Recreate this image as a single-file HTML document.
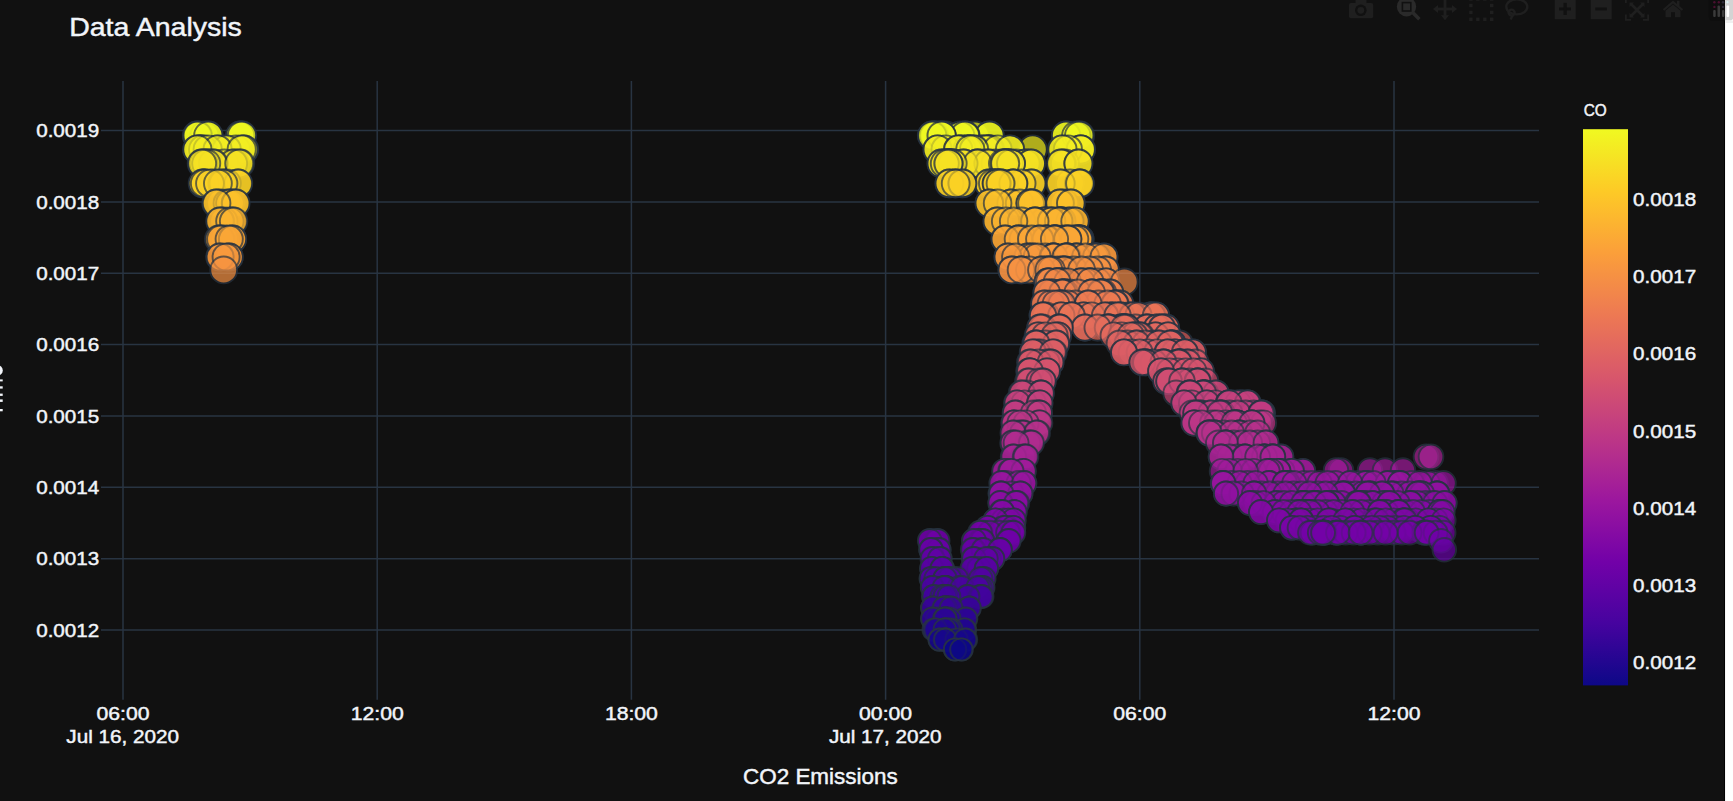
<!DOCTYPE html><html><head><meta charset="utf-8"><title>Data Analysis</title><style>html,body{margin:0;padding:0;background:#fff;overflow:hidden}svg{display:block}text{font-family:"Liberation Sans",sans-serif;fill:#f2f5fa;stroke:#f2f5fa;stroke-width:.45px}</style></head><body>
<svg width="1733" height="801" viewBox="0 0 1733 801">
<rect x="0" y="0" width="1725" height="801" fill="#111111"/>
<rect x="1724.2" y="0" width="1" height="801" fill="#000"/>
<path d="M123.0 81.0V699.7M377.2 81.0V699.7M631.4 81.0V699.7M885.6 81.0V699.7M1139.8 81.0V699.7M1394.0 81.0V699.7M101.0 130.5H1539.0M101.0 201.9H1539.0M101.0 273.2H1539.0M101.0 344.6H1539.0M101.0 415.9H1539.0M101.0 487.3H1539.0M101.0 558.7H1539.0M101.0 630.0H1539.0" stroke="#283442" stroke-width="1.5" fill="none"/>
<g stroke="#283442" stroke-width="1.9">
<circle cx="1080.0" cy="135.6" r="14.17" fill="#f0f921" opacity=".7"/>
<circle cx="974.9" cy="135.6" r="14.17" fill="#f0f921" opacity=".7"/>
<circle cx="937.7" cy="135.6" r="14.17" fill="#f0f921" opacity=".7"/>
<circle cx="240.6" cy="135.6" r="14.17" fill="#f0f921" opacity=".7"/>
<circle cx="989.5" cy="135.6" r="14.17" fill="#f0f921" opacity=".7"/>
<circle cx="945.6" cy="135.6" r="14.17" fill="#f0f921" opacity=".7"/>
<circle cx="1066.2" cy="135.6" r="14.17" fill="#f0f921" opacity=".7"/>
<circle cx="989.5" cy="135.6" r="14.17" fill="#f0f921" opacity=".7"/>
<circle cx="241.6" cy="135.6" r="14.17" fill="#f0f921" opacity=".7"/>
<circle cx="932.0" cy="135.6" r="14.17" fill="#f0f921" opacity=".7"/>
<circle cx="1066.0" cy="135.6" r="14.17" fill="#f0f921" opacity=".7"/>
<circle cx="934.8" cy="135.6" r="14.17" fill="#f0f921" opacity=".7"/>
<circle cx="197.3" cy="135.6" r="14.17" fill="#f0f921" opacity=".7"/>
<circle cx="1076.3" cy="135.6" r="14.17" fill="#f0f921" opacity=".7"/>
<circle cx="965.1" cy="135.6" r="14.17" fill="#f0f921" opacity=".7"/>
<circle cx="965.4" cy="135.6" r="14.17" fill="#f0f921" opacity=".7"/>
<circle cx="960.2" cy="135.6" r="14.17" fill="#f0f921" opacity=".7"/>
<circle cx="204.5" cy="135.6" r="14.17" fill="#f0f921" opacity=".7"/>
<circle cx="208.5" cy="135.6" r="14.17" fill="#f0f921" opacity=".7"/>
<circle cx="964.9" cy="135.6" r="14.17" fill="#f0f921" opacity=".7"/>
<circle cx="934.6" cy="135.6" r="14.17" fill="#f0f921" opacity=".7"/>
<circle cx="1079.2" cy="135.6" r="14.17" fill="#f0f921" opacity=".7"/>
<circle cx="941.2" cy="135.6" r="14.17" fill="#f0f921" opacity=".7"/>
<circle cx="240.1" cy="135.6" r="14.17" fill="#f0f921" opacity=".7"/>
<circle cx="197.0" cy="135.6" r="14.17" fill="#f0f921" opacity=".7"/>
<circle cx="197.8" cy="135.6" r="14.17" fill="#f0f921" opacity=".7"/>
<circle cx="208.3" cy="135.6" r="14.17" fill="#f0f921" opacity=".7"/>
<circle cx="933.6" cy="135.6" r="14.17" fill="#f0f921" opacity=".7"/>
<circle cx="941.5" cy="135.6" r="14.17" fill="#f0f921" opacity=".7"/>
<circle cx="242.0" cy="135.6" r="14.17" fill="#f0f921" opacity=".7"/>
<circle cx="932.2" cy="135.6" r="14.17" fill="#f0f921" opacity=".7"/>
<circle cx="941.7" cy="135.6" r="14.17" fill="#f0f921" opacity=".7"/>
<circle cx="236.0" cy="149.5" r="14.10" fill="#f3ee22" opacity=".7"/>
<circle cx="990.0" cy="149.5" r="14.10" fill="#f3ee22" opacity=".7"/>
<circle cx="967.2" cy="149.5" r="14.10" fill="#f3ee22" opacity=".7"/>
<circle cx="967.4" cy="149.5" r="14.10" fill="#f3ee22" opacity=".7"/>
<circle cx="986.3" cy="149.5" r="14.10" fill="#f3ee22" opacity=".7"/>
<circle cx="970.6" cy="149.5" r="14.10" fill="#f3ee22" opacity=".7"/>
<circle cx="981.5" cy="149.5" r="14.10" fill="#f3ee22" opacity=".7"/>
<circle cx="224.3" cy="149.5" r="14.10" fill="#f3ee22" opacity=".7"/>
<circle cx="988.8" cy="149.5" r="14.10" fill="#f3ee22" opacity=".7"/>
<circle cx="981.7" cy="149.5" r="14.10" fill="#f3ee22" opacity=".7"/>
<circle cx="961.7" cy="149.5" r="14.10" fill="#f3ee22" opacity=".7"/>
<circle cx="1080.4" cy="149.5" r="14.10" fill="#f3ee22" opacity=".7"/>
<circle cx="1032.7" cy="149.5" r="14.10" fill="#f3ee22" opacity=".7"/>
<circle cx="1010.0" cy="149.5" r="14.10" fill="#f3ee22" opacity=".7"/>
<circle cx="217.2" cy="149.5" r="14.10" fill="#f3ee22" opacity=".7"/>
<circle cx="1081.0" cy="149.5" r="14.10" fill="#f3ee22" opacity=".7"/>
<circle cx="201.5" cy="149.5" r="14.10" fill="#f3ee22" opacity=".7"/>
<circle cx="199.1" cy="149.5" r="14.10" fill="#f3ee22" opacity=".7"/>
<circle cx="990.0" cy="149.5" r="14.10" fill="#f3ee22" opacity=".7"/>
<circle cx="988.5" cy="149.5" r="14.10" fill="#f3ee22" opacity=".7"/>
<circle cx="986.1" cy="149.5" r="14.10" fill="#f3ee22" opacity=".7"/>
<circle cx="244.1" cy="149.5" r="14.10" fill="#f3ee22" opacity=".7"/>
<circle cx="243.6" cy="149.5" r="14.10" fill="#f3ee22" opacity=".7"/>
<circle cx="200.6" cy="149.5" r="14.10" fill="#f3ee22" opacity=".7"/>
<circle cx="970.1" cy="149.5" r="14.10" fill="#f3ee22" opacity=".7"/>
<circle cx="197.3" cy="149.5" r="14.10" fill="#f3ee22" opacity=".7"/>
<circle cx="203.1" cy="149.5" r="14.10" fill="#f3ee22" opacity=".7"/>
<circle cx="1062.0" cy="149.5" r="14.10" fill="#f3ee22" opacity=".7"/>
<circle cx="226.7" cy="149.5" r="14.10" fill="#f3ee22" opacity=".7"/>
<circle cx="937.6" cy="149.5" r="14.10" fill="#f3ee22" opacity=".7"/>
<circle cx="1080.8" cy="149.5" r="14.10" fill="#f3ee22" opacity=".7"/>
<circle cx="974.3" cy="149.5" r="14.10" fill="#f3ee22" opacity=".7"/>
<circle cx="207.7" cy="149.5" r="14.10" fill="#f3ee22" opacity=".7"/>
<circle cx="961.5" cy="149.5" r="14.10" fill="#f3ee22" opacity=".7"/>
<circle cx="997.6" cy="149.5" r="14.10" fill="#f3ee22" opacity=".7"/>
<circle cx="1010.0" cy="149.5" r="14.10" fill="#f3ee22" opacity=".7"/>
<circle cx="217.6" cy="149.5" r="14.10" fill="#f3ee22" opacity=".7"/>
<circle cx="945.6" cy="149.5" r="14.10" fill="#f3ee22" opacity=".7"/>
<circle cx="937.6" cy="149.5" r="14.10" fill="#f3ee22" opacity=".7"/>
<circle cx="197.4" cy="149.5" r="14.10" fill="#f3ee22" opacity=".7"/>
<circle cx="967.7" cy="149.5" r="14.10" fill="#f3ee22" opacity=".7"/>
<circle cx="1067.9" cy="149.5" r="14.10" fill="#f3ee22" opacity=".7"/>
<circle cx="241.7" cy="149.5" r="14.10" fill="#f3ee22" opacity=".7"/>
<circle cx="958.0" cy="149.5" r="14.10" fill="#f3ee22" opacity=".7"/>
<circle cx="958.3" cy="149.5" r="14.10" fill="#f3ee22" opacity=".7"/>
<circle cx="974.0" cy="149.5" r="14.10" fill="#f3ee22" opacity=".7"/>
<circle cx="1062.5" cy="149.5" r="14.10" fill="#f3ee22" opacity=".7"/>
<circle cx="970.3" cy="149.5" r="14.10" fill="#f3ee22" opacity=".7"/>
<circle cx="941.5" cy="163.5" r="14.03" fill="#f6e223" opacity=".7"/>
<circle cx="977.3" cy="163.5" r="14.03" fill="#f6e223" opacity=".7"/>
<circle cx="207.3" cy="163.5" r="14.03" fill="#f6e223" opacity=".7"/>
<circle cx="1064.9" cy="163.5" r="14.03" fill="#f6e223" opacity=".7"/>
<circle cx="945.1" cy="163.5" r="14.03" fill="#f6e223" opacity=".7"/>
<circle cx="983.5" cy="163.5" r="14.03" fill="#f6e223" opacity=".7"/>
<circle cx="952.1" cy="163.5" r="14.03" fill="#f6e223" opacity=".7"/>
<circle cx="1016.1" cy="163.5" r="14.03" fill="#f6e223" opacity=".7"/>
<circle cx="963.5" cy="163.5" r="14.03" fill="#f6e223" opacity=".7"/>
<circle cx="1002.7" cy="163.5" r="14.03" fill="#f6e223" opacity=".7"/>
<circle cx="1025.5" cy="163.5" r="14.03" fill="#f6e223" opacity=".7"/>
<circle cx="1006.5" cy="163.5" r="14.03" fill="#f6e223" opacity=".7"/>
<circle cx="1005.0" cy="163.5" r="14.03" fill="#f6e223" opacity=".7"/>
<circle cx="1008.7" cy="163.5" r="14.03" fill="#f6e223" opacity=".7"/>
<circle cx="224.1" cy="163.5" r="14.03" fill="#f6e223" opacity=".7"/>
<circle cx="208.7" cy="163.5" r="14.03" fill="#f6e223" opacity=".7"/>
<circle cx="977.8" cy="163.5" r="14.03" fill="#f6e223" opacity=".7"/>
<circle cx="948.5" cy="163.5" r="14.03" fill="#f6e223" opacity=".7"/>
<circle cx="941.5" cy="163.5" r="14.03" fill="#f6e223" opacity=".7"/>
<circle cx="952.8" cy="163.5" r="14.03" fill="#f6e223" opacity=".7"/>
<circle cx="1061.8" cy="163.5" r="14.03" fill="#f6e223" opacity=".7"/>
<circle cx="234.8" cy="163.5" r="14.03" fill="#f6e223" opacity=".7"/>
<circle cx="1006.7" cy="163.5" r="14.03" fill="#f6e223" opacity=".7"/>
<circle cx="240.2" cy="163.5" r="14.03" fill="#f6e223" opacity=".7"/>
<circle cx="995.6" cy="163.5" r="14.03" fill="#f6e223" opacity=".7"/>
<circle cx="988.5" cy="163.5" r="14.03" fill="#f6e223" opacity=".7"/>
<circle cx="952.3" cy="163.5" r="14.03" fill="#f6e223" opacity=".7"/>
<circle cx="1025.7" cy="163.5" r="14.03" fill="#f6e223" opacity=".7"/>
<circle cx="988.5" cy="163.5" r="14.03" fill="#f6e223" opacity=".7"/>
<circle cx="963.5" cy="163.5" r="14.03" fill="#f6e223" opacity=".7"/>
<circle cx="1031.0" cy="163.5" r="14.03" fill="#f6e223" opacity=".7"/>
<circle cx="1031.0" cy="163.5" r="14.03" fill="#f6e223" opacity=".7"/>
<circle cx="201.7" cy="163.5" r="14.03" fill="#f6e223" opacity=".7"/>
<circle cx="948.3" cy="163.5" r="14.03" fill="#f6e223" opacity=".7"/>
<circle cx="233.1" cy="163.5" r="14.03" fill="#f6e223" opacity=".7"/>
<circle cx="213.6" cy="163.5" r="14.03" fill="#f6e223" opacity=".7"/>
<circle cx="1009.0" cy="163.5" r="14.03" fill="#f6e223" opacity=".7"/>
<circle cx="212.8" cy="163.5" r="14.03" fill="#f6e223" opacity=".7"/>
<circle cx="203.5" cy="163.5" r="14.03" fill="#f6e223" opacity=".7"/>
<circle cx="1061.0" cy="163.5" r="14.03" fill="#f6e223" opacity=".7"/>
<circle cx="206.2" cy="163.5" r="14.03" fill="#f6e223" opacity=".7"/>
<circle cx="202.1" cy="163.5" r="14.03" fill="#f6e223" opacity=".7"/>
<circle cx="948.0" cy="163.5" r="14.03" fill="#f6e223" opacity=".7"/>
<circle cx="1078.3" cy="163.5" r="14.03" fill="#f6e223" opacity=".7"/>
<circle cx="1078.5" cy="163.5" r="14.03" fill="#f6e223" opacity=".7"/>
<circle cx="948.8" cy="163.5" r="14.03" fill="#f6e223" opacity=".7"/>
<circle cx="977.6" cy="163.5" r="14.03" fill="#f6e223" opacity=".7"/>
<circle cx="239.2" cy="163.5" r="14.03" fill="#f6e223" opacity=".7"/>
<circle cx="1011.0" cy="163.5" r="14.03" fill="#f6e223" opacity=".7"/>
<circle cx="952.6" cy="163.5" r="14.03" fill="#f6e223" opacity=".7"/>
<circle cx="948.5" cy="163.5" r="14.03" fill="#f6e223" opacity=".7"/>
<circle cx="1003.0" cy="163.5" r="14.03" fill="#f6e223" opacity=".7"/>
<circle cx="1004.7" cy="163.5" r="14.03" fill="#f6e223" opacity=".7"/>
<circle cx="944.8" cy="163.5" r="14.03" fill="#f6e223" opacity=".7"/>
<circle cx="948.5" cy="163.5" r="14.03" fill="#f6e223" opacity=".7"/>
<circle cx="1011.0" cy="163.5" r="14.03" fill="#f6e223" opacity=".7"/>
<circle cx="1005.2" cy="163.5" r="14.03" fill="#f6e223" opacity=".7"/>
<circle cx="992.4" cy="183.4" r="13.92" fill="#fbd225" opacity=".7"/>
<circle cx="237.9" cy="183.4" r="13.92" fill="#fbd225" opacity=".7"/>
<circle cx="1000.8" cy="183.4" r="13.92" fill="#fbd225" opacity=".7"/>
<circle cx="1013.0" cy="183.4" r="13.92" fill="#fbd225" opacity=".7"/>
<circle cx="226.9" cy="183.4" r="13.92" fill="#fbd225" opacity=".7"/>
<circle cx="1069.9" cy="183.4" r="13.92" fill="#fbd225" opacity=".7"/>
<circle cx="955.4" cy="183.4" r="13.92" fill="#fbd225" opacity=".7"/>
<circle cx="203.2" cy="183.4" r="13.92" fill="#fbd225" opacity=".7"/>
<circle cx="955.2" cy="183.4" r="13.92" fill="#fbd225" opacity=".7"/>
<circle cx="992.6" cy="183.4" r="13.92" fill="#fbd225" opacity=".7"/>
<circle cx="989.0" cy="183.4" r="13.92" fill="#fbd225" opacity=".7"/>
<circle cx="1031.3" cy="183.4" r="13.92" fill="#fbd225" opacity=".7"/>
<circle cx="204.7" cy="183.4" r="13.92" fill="#fbd225" opacity=".7"/>
<circle cx="1079.7" cy="183.4" r="13.92" fill="#fbd225" opacity=".7"/>
<circle cx="949.4" cy="183.4" r="13.92" fill="#fbd225" opacity=".7"/>
<circle cx="213.8" cy="183.4" r="13.92" fill="#fbd225" opacity=".7"/>
<circle cx="202.6" cy="183.4" r="13.92" fill="#fbd225" opacity=".7"/>
<circle cx="988.8" cy="183.4" r="13.92" fill="#fbd225" opacity=".7"/>
<circle cx="1031.7" cy="183.4" r="13.92" fill="#fbd225" opacity=".7"/>
<circle cx="1060.0" cy="183.4" r="13.92" fill="#fbd225" opacity=".7"/>
<circle cx="1021.6" cy="183.4" r="13.92" fill="#fbd225" opacity=".7"/>
<circle cx="1013.5" cy="183.4" r="13.92" fill="#fbd225" opacity=".7"/>
<circle cx="997.0" cy="183.4" r="13.92" fill="#fbd225" opacity=".7"/>
<circle cx="1001.0" cy="183.4" r="13.92" fill="#fbd225" opacity=".7"/>
<circle cx="992.9" cy="183.4" r="13.92" fill="#fbd225" opacity=".7"/>
<circle cx="996.7" cy="183.4" r="13.92" fill="#fbd225" opacity=".7"/>
<circle cx="949.4" cy="183.4" r="13.92" fill="#fbd225" opacity=".7"/>
<circle cx="1079.0" cy="183.4" r="13.92" fill="#fbd225" opacity=".7"/>
<circle cx="997.2" cy="183.4" r="13.92" fill="#fbd225" opacity=".7"/>
<circle cx="1060.8" cy="183.4" r="13.92" fill="#fbd225" opacity=".7"/>
<circle cx="962.4" cy="183.4" r="13.92" fill="#fbd225" opacity=".7"/>
<circle cx="204.8" cy="183.4" r="13.92" fill="#fbd225" opacity=".7"/>
<circle cx="222.2" cy="183.4" r="13.92" fill="#fbd225" opacity=".7"/>
<circle cx="962.4" cy="183.4" r="13.92" fill="#fbd225" opacity=".7"/>
<circle cx="238.3" cy="183.4" r="13.92" fill="#fbd225" opacity=".7"/>
<circle cx="223.5" cy="183.4" r="13.92" fill="#fbd225" opacity=".7"/>
<circle cx="1013.3" cy="183.4" r="13.92" fill="#fbd225" opacity=".7"/>
<circle cx="996.5" cy="183.4" r="13.92" fill="#fbd225" opacity=".7"/>
<circle cx="1000.5" cy="183.4" r="13.92" fill="#fbd225" opacity=".7"/>
<circle cx="210.0" cy="183.4" r="13.92" fill="#fbd225" opacity=".7"/>
<circle cx="955.7" cy="183.4" r="13.92" fill="#fbd225" opacity=".7"/>
<circle cx="217.9" cy="183.4" r="13.92" fill="#fbd225" opacity=".7"/>
<circle cx="1080.0" cy="183.4" r="13.92" fill="#fbd225" opacity=".7"/>
<circle cx="1011.0" cy="203.3" r="13.81" fill="#fdc22a" opacity=".7"/>
<circle cx="1032.0" cy="203.3" r="13.81" fill="#fdc22a" opacity=".7"/>
<circle cx="220.9" cy="203.3" r="13.81" fill="#fdc22a" opacity=".7"/>
<circle cx="216.1" cy="203.3" r="13.81" fill="#fdc22a" opacity=".7"/>
<circle cx="231.7" cy="203.3" r="13.81" fill="#fdc22a" opacity=".7"/>
<circle cx="989.3" cy="203.3" r="13.81" fill="#fdc22a" opacity=".7"/>
<circle cx="1064.6" cy="203.3" r="13.81" fill="#fdc22a" opacity=".7"/>
<circle cx="1060.2" cy="203.3" r="13.81" fill="#fdc22a" opacity=".7"/>
<circle cx="1011.2" cy="203.3" r="13.81" fill="#fdc22a" opacity=".7"/>
<circle cx="1019.6" cy="203.3" r="13.81" fill="#fdc22a" opacity=".7"/>
<circle cx="227.4" cy="203.3" r="13.81" fill="#fdc22a" opacity=".7"/>
<circle cx="1030.3" cy="203.3" r="13.81" fill="#fdc22a" opacity=".7"/>
<circle cx="989.3" cy="203.3" r="13.81" fill="#fdc22a" opacity=".7"/>
<circle cx="1030.1" cy="203.3" r="13.81" fill="#fdc22a" opacity=".7"/>
<circle cx="1071.0" cy="203.3" r="13.81" fill="#fdc22a" opacity=".7"/>
<circle cx="229.9" cy="203.3" r="13.81" fill="#fdc22a" opacity=".7"/>
<circle cx="1060.0" cy="203.3" r="13.81" fill="#fdc22a" opacity=".7"/>
<circle cx="235.5" cy="203.3" r="13.81" fill="#fdc22a" opacity=".7"/>
<circle cx="235.8" cy="203.3" r="13.81" fill="#fdc22a" opacity=".7"/>
<circle cx="1070.8" cy="203.3" r="13.81" fill="#fdc22a" opacity=".7"/>
<circle cx="1032.0" cy="203.3" r="13.81" fill="#fdc22a" opacity=".7"/>
<circle cx="997.6" cy="203.3" r="13.81" fill="#fdc22a" opacity=".7"/>
<circle cx="216.6" cy="203.3" r="13.81" fill="#fdc22a" opacity=".7"/>
<circle cx="1044.5" cy="221.2" r="13.72" fill="#fcb530" opacity=".7"/>
<circle cx="232.7" cy="221.2" r="13.72" fill="#fcb530" opacity=".7"/>
<circle cx="1051.2" cy="221.2" r="13.72" fill="#fcb530" opacity=".7"/>
<circle cx="1060.7" cy="221.2" r="13.72" fill="#fcb530" opacity=".7"/>
<circle cx="223.8" cy="221.2" r="13.72" fill="#fcb530" opacity=".7"/>
<circle cx="997.2" cy="221.2" r="13.72" fill="#fcb530" opacity=".7"/>
<circle cx="1075.0" cy="221.2" r="13.72" fill="#fcb530" opacity=".7"/>
<circle cx="1062.1" cy="221.2" r="13.72" fill="#fcb530" opacity=".7"/>
<circle cx="1069.1" cy="221.2" r="13.72" fill="#fcb530" opacity=".7"/>
<circle cx="220.4" cy="221.2" r="13.72" fill="#fcb530" opacity=".7"/>
<circle cx="997.2" cy="221.2" r="13.72" fill="#fcb530" opacity=".7"/>
<circle cx="1046.3" cy="221.2" r="13.72" fill="#fcb530" opacity=".7"/>
<circle cx="1005.6" cy="221.2" r="13.72" fill="#fcb530" opacity=".7"/>
<circle cx="1061.8" cy="221.2" r="13.72" fill="#fcb530" opacity=".7"/>
<circle cx="1044.2" cy="221.2" r="13.72" fill="#fcb530" opacity=".7"/>
<circle cx="219.9" cy="221.2" r="13.72" fill="#fcb530" opacity=".7"/>
<circle cx="1061.6" cy="221.2" r="13.72" fill="#fcb530" opacity=".7"/>
<circle cx="229.9" cy="221.2" r="13.72" fill="#fcb530" opacity=".7"/>
<circle cx="1058.0" cy="221.2" r="13.72" fill="#fcb530" opacity=".7"/>
<circle cx="1021.6" cy="221.2" r="13.72" fill="#fcb530" opacity=".7"/>
<circle cx="1035.1" cy="221.2" r="13.72" fill="#fcb530" opacity=".7"/>
<circle cx="1059.8" cy="221.2" r="13.72" fill="#fcb530" opacity=".7"/>
<circle cx="1035.3" cy="221.2" r="13.72" fill="#fcb530" opacity=".7"/>
<circle cx="1070.0" cy="221.2" r="13.72" fill="#fcb530" opacity=".7"/>
<circle cx="1051.7" cy="221.2" r="13.72" fill="#fcb530" opacity=".7"/>
<circle cx="1051.5" cy="221.2" r="13.72" fill="#fcb530" opacity=".7"/>
<circle cx="233.6" cy="221.2" r="13.72" fill="#fcb530" opacity=".7"/>
<circle cx="1058.7" cy="221.2" r="13.72" fill="#fcb530" opacity=".7"/>
<circle cx="1034.8" cy="221.2" r="13.72" fill="#fcb530" opacity=".7"/>
<circle cx="1013.6" cy="221.2" r="13.72" fill="#fcb530" opacity=".7"/>
<circle cx="1075.0" cy="221.2" r="13.72" fill="#fcb530" opacity=".7"/>
<circle cx="1054.7" cy="239.1" r="13.62" fill="#fba736" opacity=".7"/>
<circle cx="1039.4" cy="239.1" r="13.62" fill="#fba736" opacity=".7"/>
<circle cx="1054.0" cy="239.1" r="13.62" fill="#fba736" opacity=".7"/>
<circle cx="1074.4" cy="239.1" r="13.62" fill="#fba736" opacity=".7"/>
<circle cx="224.5" cy="239.1" r="13.62" fill="#fba736" opacity=".7"/>
<circle cx="1018.8" cy="239.1" r="13.62" fill="#fba736" opacity=".7"/>
<circle cx="219.6" cy="239.1" r="13.62" fill="#fba736" opacity=".7"/>
<circle cx="1056.4" cy="239.1" r="13.62" fill="#fba736" opacity=".7"/>
<circle cx="1063.6" cy="239.1" r="13.62" fill="#fba736" opacity=".7"/>
<circle cx="1054.2" cy="239.1" r="13.62" fill="#fba736" opacity=".7"/>
<circle cx="1080.0" cy="239.1" r="13.62" fill="#fba736" opacity=".7"/>
<circle cx="218.6" cy="239.1" r="13.62" fill="#fba736" opacity=".7"/>
<circle cx="1068.0" cy="239.1" r="13.62" fill="#fba736" opacity=".7"/>
<circle cx="1080.0" cy="239.1" r="13.62" fill="#fba736" opacity=".7"/>
<circle cx="1018.5" cy="239.1" r="13.62" fill="#fba736" opacity=".7"/>
<circle cx="220.7" cy="239.1" r="13.62" fill="#fba736" opacity=".7"/>
<circle cx="1005.1" cy="239.1" r="13.62" fill="#fba736" opacity=".7"/>
<circle cx="1023.2" cy="239.1" r="13.62" fill="#fba736" opacity=".7"/>
<circle cx="1005.1" cy="239.1" r="13.62" fill="#fba736" opacity=".7"/>
<circle cx="1079.1" cy="239.1" r="13.62" fill="#fba736" opacity=".7"/>
<circle cx="1056.0" cy="239.1" r="13.62" fill="#fba736" opacity=".7"/>
<circle cx="1046.3" cy="239.1" r="13.62" fill="#fba736" opacity=".7"/>
<circle cx="1078.6" cy="239.1" r="13.62" fill="#fba736" opacity=".7"/>
<circle cx="1078.3" cy="239.1" r="13.62" fill="#fba736" opacity=".7"/>
<circle cx="1078.8" cy="239.1" r="13.62" fill="#fba736" opacity=".7"/>
<circle cx="232.5" cy="239.1" r="13.62" fill="#fba736" opacity=".7"/>
<circle cx="1018.3" cy="239.1" r="13.62" fill="#fba736" opacity=".7"/>
<circle cx="1046.6" cy="239.1" r="13.62" fill="#fba736" opacity=".7"/>
<circle cx="1046.1" cy="239.1" r="13.62" fill="#fba736" opacity=".7"/>
<circle cx="232.6" cy="239.1" r="13.62" fill="#fba736" opacity=".7"/>
<circle cx="1074.7" cy="239.1" r="13.62" fill="#fba736" opacity=".7"/>
<circle cx="1031.6" cy="239.1" r="13.62" fill="#fba736" opacity=".7"/>
<circle cx="229.2" cy="239.1" r="13.62" fill="#fba736" opacity=".7"/>
<circle cx="1067.7" cy="239.1" r="13.62" fill="#fba736" opacity=".7"/>
<circle cx="1039.7" cy="239.1" r="13.62" fill="#fba736" opacity=".7"/>
<circle cx="1067.8" cy="239.1" r="13.62" fill="#fba736" opacity=".7"/>
<circle cx="1054.5" cy="239.1" r="13.62" fill="#fba736" opacity=".7"/>
<circle cx="1045.6" cy="257.0" r="13.52" fill="#f99a3d" opacity=".7"/>
<circle cx="1096.7" cy="257.0" r="13.52" fill="#f99a3d" opacity=".7"/>
<circle cx="1027.6" cy="257.0" r="13.52" fill="#f99a3d" opacity=".7"/>
<circle cx="1008.0" cy="257.0" r="13.52" fill="#f99a3d" opacity=".7"/>
<circle cx="1076.2" cy="257.0" r="13.52" fill="#f99a3d" opacity=".7"/>
<circle cx="229.3" cy="257.0" r="13.52" fill="#f99a3d" opacity=".7"/>
<circle cx="1032.3" cy="257.0" r="13.52" fill="#f99a3d" opacity=".7"/>
<circle cx="229.3" cy="257.0" r="13.52" fill="#f99a3d" opacity=".7"/>
<circle cx="1096.2" cy="257.0" r="13.52" fill="#f99a3d" opacity=".7"/>
<circle cx="1067.6" cy="257.0" r="13.52" fill="#f99a3d" opacity=".7"/>
<circle cx="1094.7" cy="257.0" r="13.52" fill="#f99a3d" opacity=".7"/>
<circle cx="1053.1" cy="257.0" r="13.52" fill="#f99a3d" opacity=".7"/>
<circle cx="1104.0" cy="257.0" r="13.52" fill="#f99a3d" opacity=".7"/>
<circle cx="219.7" cy="257.0" r="13.52" fill="#f99a3d" opacity=".7"/>
<circle cx="220.2" cy="257.0" r="13.52" fill="#f99a3d" opacity=".7"/>
<circle cx="1067.3" cy="257.0" r="13.52" fill="#f99a3d" opacity=".7"/>
<circle cx="1095.0" cy="257.0" r="13.52" fill="#f99a3d" opacity=".7"/>
<circle cx="1094.5" cy="257.0" r="13.52" fill="#f99a3d" opacity=".7"/>
<circle cx="1066.0" cy="257.0" r="13.52" fill="#f99a3d" opacity=".7"/>
<circle cx="1027.8" cy="257.0" r="13.52" fill="#f99a3d" opacity=".7"/>
<circle cx="1032.6" cy="257.0" r="13.52" fill="#f99a3d" opacity=".7"/>
<circle cx="1076.5" cy="257.0" r="13.52" fill="#f99a3d" opacity=".7"/>
<circle cx="1053.6" cy="257.0" r="13.52" fill="#f99a3d" opacity=".7"/>
<circle cx="1053.0" cy="257.0" r="13.52" fill="#f99a3d" opacity=".7"/>
<circle cx="1076.7" cy="257.0" r="13.52" fill="#f99a3d" opacity=".7"/>
<circle cx="1053.8" cy="257.0" r="13.52" fill="#f99a3d" opacity=".7"/>
<circle cx="1008.0" cy="257.0" r="13.52" fill="#f99a3d" opacity=".7"/>
<circle cx="1096.5" cy="257.0" r="13.52" fill="#f99a3d" opacity=".7"/>
<circle cx="1067.1" cy="257.0" r="13.52" fill="#f99a3d" opacity=".7"/>
<circle cx="1037.2" cy="257.0" r="13.52" fill="#f99a3d" opacity=".7"/>
<circle cx="1085.6" cy="257.0" r="13.52" fill="#f99a3d" opacity=".7"/>
<circle cx="226.1" cy="257.0" r="13.52" fill="#f99a3d" opacity=".7"/>
<circle cx="1065.9" cy="257.0" r="13.52" fill="#f99a3d" opacity=".7"/>
<circle cx="1015.6" cy="257.0" r="13.52" fill="#f99a3d" opacity=".7"/>
<circle cx="1104.0" cy="257.0" r="13.52" fill="#f99a3d" opacity=".7"/>
<circle cx="223.7" cy="269.9" r="13.45" fill="#f69243" opacity=".7"/>
<circle cx="1021.3" cy="269.9" r="13.45" fill="#f69243" opacity=".7"/>
<circle cx="1011.9" cy="269.9" r="13.45" fill="#f69243" opacity=".7"/>
<circle cx="1065.6" cy="269.9" r="13.45" fill="#f69243" opacity=".7"/>
<circle cx="1021.6" cy="269.9" r="13.45" fill="#f69243" opacity=".7"/>
<circle cx="1041.7" cy="269.9" r="13.45" fill="#f69243" opacity=".7"/>
<circle cx="1062.5" cy="269.9" r="13.45" fill="#f69243" opacity=".7"/>
<circle cx="1051.0" cy="269.9" r="13.45" fill="#f69243" opacity=".7"/>
<circle cx="1063.1" cy="269.9" r="13.45" fill="#f69243" opacity=".7"/>
<circle cx="1057.6" cy="269.9" r="13.45" fill="#f69243" opacity=".7"/>
<circle cx="1073.6" cy="269.9" r="13.45" fill="#f69243" opacity=".7"/>
<circle cx="1046.9" cy="269.9" r="13.45" fill="#f69243" opacity=".7"/>
<circle cx="1046.9" cy="269.9" r="13.45" fill="#f69243" opacity=".7"/>
<circle cx="1029.4" cy="269.9" r="13.45" fill="#f69243" opacity=".7"/>
<circle cx="1011.9" cy="269.9" r="13.45" fill="#f69243" opacity=".7"/>
<circle cx="1021.1" cy="269.9" r="13.45" fill="#f69243" opacity=".7"/>
<circle cx="1105.5" cy="269.9" r="13.45" fill="#f69243" opacity=".7"/>
<circle cx="1064.0" cy="269.9" r="13.45" fill="#f69243" opacity=".7"/>
<circle cx="1041.5" cy="269.9" r="13.45" fill="#f69243" opacity=".7"/>
<circle cx="1105.5" cy="269.9" r="13.45" fill="#f69243" opacity=".7"/>
<circle cx="1051.4" cy="269.9" r="13.45" fill="#f69243" opacity=".7"/>
<circle cx="1097.6" cy="269.9" r="13.45" fill="#f69243" opacity=".7"/>
<circle cx="1089.6" cy="269.9" r="13.45" fill="#f69243" opacity=".7"/>
<circle cx="1048.9" cy="269.9" r="13.45" fill="#f69243" opacity=".7"/>
<circle cx="1081.6" cy="269.9" r="13.45" fill="#f69243" opacity=".7"/>
<circle cx="1059.0" cy="281.8" r="13.38" fill="#f38a48" opacity=".7"/>
<circle cx="1063.2" cy="281.8" r="13.38" fill="#f38a48" opacity=".7"/>
<circle cx="1056.8" cy="281.8" r="13.38" fill="#f38a48" opacity=".7"/>
<circle cx="1062.3" cy="281.8" r="13.38" fill="#f38a48" opacity=".7"/>
<circle cx="1048.8" cy="281.8" r="13.38" fill="#f38a48" opacity=".7"/>
<circle cx="1089.7" cy="281.8" r="13.38" fill="#f38a48" opacity=".7"/>
<circle cx="1106.0" cy="281.8" r="13.38" fill="#f38a48" opacity=".7"/>
<circle cx="1080.7" cy="281.8" r="13.38" fill="#f38a48" opacity=".7"/>
<circle cx="1056.3" cy="281.8" r="13.38" fill="#f38a48" opacity=".7"/>
<circle cx="1081.0" cy="281.8" r="13.38" fill="#f38a48" opacity=".7"/>
<circle cx="1047.8" cy="281.8" r="13.38" fill="#f38a48" opacity=".7"/>
<circle cx="1062.3" cy="281.8" r="13.38" fill="#f38a48" opacity=".7"/>
<circle cx="1090.4" cy="281.8" r="13.38" fill="#f38a48" opacity=".7"/>
<circle cx="1056.6" cy="281.8" r="13.38" fill="#f38a48" opacity=".7"/>
<circle cx="1058.8" cy="281.8" r="13.38" fill="#f38a48" opacity=".7"/>
<circle cx="1089.9" cy="281.8" r="13.38" fill="#f38a48" opacity=".7"/>
<circle cx="1047.8" cy="281.8" r="13.38" fill="#f38a48" opacity=".7"/>
<circle cx="1049.5" cy="281.8" r="13.38" fill="#f38a48" opacity=".7"/>
<circle cx="1097.6" cy="281.8" r="13.38" fill="#f38a48" opacity=".7"/>
<circle cx="1085.7" cy="281.8" r="13.38" fill="#f38a48" opacity=".7"/>
<circle cx="1106.0" cy="281.8" r="13.38" fill="#f38a48" opacity=".7"/>
<circle cx="1081.2" cy="281.8" r="13.38" fill="#f38a48" opacity=".7"/>
<circle cx="1067.6" cy="281.8" r="13.38" fill="#f38a48" opacity=".7"/>
<circle cx="1057.1" cy="281.8" r="13.38" fill="#f38a48" opacity=".7"/>
<circle cx="1090.2" cy="281.8" r="13.38" fill="#f38a48" opacity=".7"/>
<circle cx="1124.3" cy="281.9" r="13.38" fill="#f38a48" opacity=".7"/>
<circle cx="1092.0" cy="292.8" r="13.32" fill="#f0824d" opacity=".7"/>
<circle cx="1064.7" cy="292.8" r="13.32" fill="#f0824d" opacity=".7"/>
<circle cx="1061.5" cy="292.8" r="13.32" fill="#f0824d" opacity=".7"/>
<circle cx="1092.2" cy="292.8" r="13.32" fill="#f0824d" opacity=".7"/>
<circle cx="1051.8" cy="292.8" r="13.32" fill="#f0824d" opacity=".7"/>
<circle cx="1065.0" cy="292.8" r="13.32" fill="#f0824d" opacity=".7"/>
<circle cx="1103.2" cy="292.8" r="13.32" fill="#f0824d" opacity=".7"/>
<circle cx="1051.8" cy="292.8" r="13.32" fill="#f0824d" opacity=".7"/>
<circle cx="1069.5" cy="292.8" r="13.32" fill="#f0824d" opacity=".7"/>
<circle cx="1102.7" cy="292.8" r="13.32" fill="#f0824d" opacity=".7"/>
<circle cx="1100.4" cy="292.8" r="13.32" fill="#f0824d" opacity=".7"/>
<circle cx="1064.5" cy="292.8" r="13.32" fill="#f0824d" opacity=".7"/>
<circle cx="1100.9" cy="292.8" r="13.32" fill="#f0824d" opacity=".7"/>
<circle cx="1046.5" cy="292.8" r="13.32" fill="#f0824d" opacity=".7"/>
<circle cx="1062.3" cy="292.8" r="13.32" fill="#f0824d" opacity=".7"/>
<circle cx="1062.5" cy="292.8" r="13.32" fill="#f0824d" opacity=".7"/>
<circle cx="1110.0" cy="292.8" r="13.32" fill="#f0824d" opacity=".7"/>
<circle cx="1110.0" cy="292.8" r="13.32" fill="#f0824d" opacity=".7"/>
<circle cx="1103.0" cy="292.8" r="13.32" fill="#f0824d" opacity=".7"/>
<circle cx="1077.6" cy="292.8" r="13.32" fill="#f0824d" opacity=".7"/>
<circle cx="1101.2" cy="292.8" r="13.32" fill="#f0824d" opacity=".7"/>
<circle cx="1100.7" cy="292.8" r="13.32" fill="#f0824d" opacity=".7"/>
<circle cx="1091.7" cy="292.8" r="13.32" fill="#f0824d" opacity=".7"/>
<circle cx="1046.8" cy="292.8" r="13.32" fill="#f0824d" opacity=".7"/>
<circle cx="1061.8" cy="303.7" r="13.26" fill="#ee7b52" opacity=".7"/>
<circle cx="1120.0" cy="303.7" r="13.26" fill="#ee7b52" opacity=".7"/>
<circle cx="1044.9" cy="303.7" r="13.26" fill="#ee7b52" opacity=".7"/>
<circle cx="1060.0" cy="303.7" r="13.26" fill="#ee7b52" opacity=".7"/>
<circle cx="1098.6" cy="303.7" r="13.26" fill="#ee7b52" opacity=".7"/>
<circle cx="1115.0" cy="303.7" r="13.26" fill="#ee7b52" opacity=".7"/>
<circle cx="1075.6" cy="303.7" r="13.26" fill="#ee7b52" opacity=".7"/>
<circle cx="1067.6" cy="303.7" r="13.26" fill="#ee7b52" opacity=".7"/>
<circle cx="1115.5" cy="303.7" r="13.26" fill="#ee7b52" opacity=".7"/>
<circle cx="1088.0" cy="303.7" r="13.26" fill="#ee7b52" opacity=".7"/>
<circle cx="1120.0" cy="303.7" r="13.26" fill="#ee7b52" opacity=".7"/>
<circle cx="1115.3" cy="303.7" r="13.26" fill="#ee7b52" opacity=".7"/>
<circle cx="1114.8" cy="303.7" r="13.26" fill="#ee7b52" opacity=".7"/>
<circle cx="1044.2" cy="303.7" r="13.26" fill="#ee7b52" opacity=".7"/>
<circle cx="1060.0" cy="303.7" r="13.26" fill="#ee7b52" opacity=".7"/>
<circle cx="1050.9" cy="303.7" r="13.26" fill="#ee7b52" opacity=".7"/>
<circle cx="1061.8" cy="303.7" r="13.26" fill="#ee7b52" opacity=".7"/>
<circle cx="1055.9" cy="303.7" r="13.26" fill="#ee7b52" opacity=".7"/>
<circle cx="1107.6" cy="303.7" r="13.26" fill="#ee7b52" opacity=".7"/>
<circle cx="1088.3" cy="303.7" r="13.26" fill="#ee7b52" opacity=".7"/>
<circle cx="1060.9" cy="315.6" r="13.19" fill="#ea7457" opacity=".7"/>
<circle cx="1112.4" cy="315.6" r="13.19" fill="#ea7457" opacity=".7"/>
<circle cx="1110.3" cy="315.6" r="13.19" fill="#ea7457" opacity=".7"/>
<circle cx="1042.8" cy="315.6" r="13.19" fill="#ea7457" opacity=".7"/>
<circle cx="1045.9" cy="315.6" r="13.19" fill="#ea7457" opacity=".7"/>
<circle cx="1151.3" cy="315.6" r="13.19" fill="#ea7457" opacity=".7"/>
<circle cx="1132.5" cy="315.6" r="13.19" fill="#ea7457" opacity=".7"/>
<circle cx="1128.5" cy="315.6" r="13.19" fill="#ea7457" opacity=".7"/>
<circle cx="1083.8" cy="315.6" r="13.19" fill="#ea7457" opacity=".7"/>
<circle cx="1121.0" cy="315.6" r="13.19" fill="#ea7457" opacity=".7"/>
<circle cx="1151.8" cy="315.6" r="13.19" fill="#ea7457" opacity=".7"/>
<circle cx="1112.7" cy="315.6" r="13.19" fill="#ea7457" opacity=".7"/>
<circle cx="1149.7" cy="315.6" r="13.19" fill="#ea7457" opacity=".7"/>
<circle cx="1105.3" cy="315.6" r="13.19" fill="#ea7457" opacity=".7"/>
<circle cx="1071.9" cy="315.6" r="13.19" fill="#ea7457" opacity=".7"/>
<circle cx="1042.7" cy="315.6" r="13.19" fill="#ea7457" opacity=".7"/>
<circle cx="1083.5" cy="315.6" r="13.19" fill="#ea7457" opacity=".7"/>
<circle cx="1151.5" cy="315.6" r="13.19" fill="#ea7457" opacity=".7"/>
<circle cx="1071.4" cy="315.6" r="13.19" fill="#ea7457" opacity=".7"/>
<circle cx="1117.8" cy="315.6" r="13.19" fill="#ea7457" opacity=".7"/>
<circle cx="1156.0" cy="315.6" r="13.19" fill="#ea7457" opacity=".7"/>
<circle cx="1061.3" cy="315.6" r="13.19" fill="#ea7457" opacity=".7"/>
<circle cx="1091.6" cy="315.6" r="13.19" fill="#ea7457" opacity=".7"/>
<circle cx="1152.0" cy="315.6" r="13.19" fill="#ea7457" opacity=".7"/>
<circle cx="1132.3" cy="315.6" r="13.19" fill="#ea7457" opacity=".7"/>
<circle cx="1071.6" cy="315.6" r="13.19" fill="#ea7457" opacity=".7"/>
<circle cx="1043.1" cy="315.6" r="13.19" fill="#ea7457" opacity=".7"/>
<circle cx="1121.0" cy="315.6" r="13.19" fill="#ea7457" opacity=".7"/>
<circle cx="1132.8" cy="315.6" r="13.19" fill="#ea7457" opacity=".7"/>
<circle cx="1138.5" cy="315.6" r="13.19" fill="#ea7457" opacity=".7"/>
<circle cx="1105.1" cy="315.6" r="13.19" fill="#ea7457" opacity=".7"/>
<circle cx="1117.6" cy="315.6" r="13.19" fill="#ea7457" opacity=".7"/>
<circle cx="1156.0" cy="315.6" r="13.19" fill="#ea7457" opacity=".7"/>
<circle cx="1146.8" cy="327.6" r="13.13" fill="#e56d5c" opacity=".7"/>
<circle cx="1161.8" cy="327.6" r="13.13" fill="#e56d5c" opacity=".7"/>
<circle cx="1124.3" cy="327.6" r="13.13" fill="#e56d5c" opacity=".7"/>
<circle cx="1085.0" cy="327.6" r="13.13" fill="#e56d5c" opacity=".7"/>
<circle cx="1135.6" cy="327.6" r="13.13" fill="#e56d5c" opacity=".7"/>
<circle cx="1147.3" cy="327.6" r="13.13" fill="#e56d5c" opacity=".7"/>
<circle cx="1109.0" cy="327.6" r="13.13" fill="#e56d5c" opacity=".7"/>
<circle cx="1166.0" cy="327.6" r="13.13" fill="#e56d5c" opacity=".7"/>
<circle cx="1147.0" cy="327.6" r="13.13" fill="#e56d5c" opacity=".7"/>
<circle cx="1124.5" cy="327.6" r="13.13" fill="#e56d5c" opacity=".7"/>
<circle cx="1120.2" cy="327.6" r="13.13" fill="#e56d5c" opacity=".7"/>
<circle cx="1121.9" cy="327.6" r="13.13" fill="#e56d5c" opacity=".7"/>
<circle cx="1040.2" cy="327.6" r="13.13" fill="#e56d5c" opacity=".7"/>
<circle cx="1085.0" cy="327.6" r="13.13" fill="#e56d5c" opacity=".7"/>
<circle cx="1123.8" cy="327.6" r="13.13" fill="#e56d5c" opacity=".7"/>
<circle cx="1122.4" cy="327.6" r="13.13" fill="#e56d5c" opacity=".7"/>
<circle cx="1122.2" cy="327.6" r="13.13" fill="#e56d5c" opacity=".7"/>
<circle cx="1126.8" cy="327.6" r="13.13" fill="#e56d5c" opacity=".7"/>
<circle cx="1059.4" cy="327.6" r="13.13" fill="#e56d5c" opacity=".7"/>
<circle cx="1126.3" cy="327.6" r="13.13" fill="#e56d5c" opacity=".7"/>
<circle cx="1058.9" cy="327.6" r="13.13" fill="#e56d5c" opacity=".7"/>
<circle cx="1166.0" cy="327.6" r="13.13" fill="#e56d5c" opacity=".7"/>
<circle cx="1157.0" cy="327.6" r="13.13" fill="#e56d5c" opacity=".7"/>
<circle cx="1109.0" cy="327.6" r="13.13" fill="#e56d5c" opacity=".7"/>
<circle cx="1157.0" cy="327.6" r="13.13" fill="#e56d5c" opacity=".7"/>
<circle cx="1108.0" cy="327.6" r="13.13" fill="#e56d5c" opacity=".7"/>
<circle cx="1107.8" cy="327.6" r="13.13" fill="#e56d5c" opacity=".7"/>
<circle cx="1161.6" cy="327.6" r="13.13" fill="#e56d5c" opacity=".7"/>
<circle cx="1042.6" cy="327.6" r="13.13" fill="#e56d5c" opacity=".7"/>
<circle cx="1097.6" cy="327.6" r="13.13" fill="#e56d5c" opacity=".7"/>
<circle cx="1126.5" cy="327.6" r="13.13" fill="#e56d5c" opacity=".7"/>
<circle cx="1040.5" cy="327.6" r="13.13" fill="#e56d5c" opacity=".7"/>
<circle cx="1059.8" cy="327.6" r="13.13" fill="#e56d5c" opacity=".7"/>
<circle cx="1124.0" cy="327.6" r="13.13" fill="#e56d5c" opacity=".7"/>
<circle cx="1162.1" cy="327.6" r="13.13" fill="#e56d5c" opacity=".7"/>
<circle cx="1058.0" cy="335.5" r="13.08" fill="#e2685f" opacity=".7"/>
<circle cx="1140.7" cy="335.5" r="13.08" fill="#e2685f" opacity=".7"/>
<circle cx="1155.7" cy="335.5" r="13.08" fill="#e2685f" opacity=".7"/>
<circle cx="1058.2" cy="335.5" r="13.08" fill="#e2685f" opacity=".7"/>
<circle cx="1121.6" cy="335.5" r="13.08" fill="#e2685f" opacity=".7"/>
<circle cx="1168.0" cy="335.5" r="13.08" fill="#e2685f" opacity=".7"/>
<circle cx="1155.5" cy="335.5" r="13.08" fill="#e2685f" opacity=".7"/>
<circle cx="1140.5" cy="335.5" r="13.08" fill="#e2685f" opacity=".7"/>
<circle cx="1038.8" cy="335.5" r="13.08" fill="#e2685f" opacity=".7"/>
<circle cx="1037.8" cy="335.5" r="13.08" fill="#e2685f" opacity=".7"/>
<circle cx="1045.1" cy="335.5" r="13.08" fill="#e2685f" opacity=".7"/>
<circle cx="1054.6" cy="335.5" r="13.08" fill="#e2685f" opacity=".7"/>
<circle cx="1168.0" cy="335.5" r="13.08" fill="#e2685f" opacity=".7"/>
<circle cx="1134.7" cy="335.5" r="13.08" fill="#e2685f" opacity=".7"/>
<circle cx="1134.9" cy="335.5" r="13.08" fill="#e2685f" opacity=".7"/>
<circle cx="1139.2" cy="335.5" r="13.08" fill="#e2685f" opacity=".7"/>
<circle cx="1134.4" cy="335.5" r="13.08" fill="#e2685f" opacity=".7"/>
<circle cx="1113.6" cy="335.5" r="13.08" fill="#e2685f" opacity=".7"/>
<circle cx="1130.7" cy="335.5" r="13.08" fill="#e2685f" opacity=".7"/>
<circle cx="1136.7" cy="343.5" r="13.04" fill="#e06362" opacity=".7"/>
<circle cx="1045.3" cy="343.5" r="13.04" fill="#e06362" opacity=".7"/>
<circle cx="1035.4" cy="343.5" r="13.04" fill="#e06362" opacity=".7"/>
<circle cx="1127.6" cy="343.5" r="13.04" fill="#e06362" opacity=".7"/>
<circle cx="1056.4" cy="343.5" r="13.04" fill="#e06362" opacity=".7"/>
<circle cx="1179.6" cy="343.5" r="13.04" fill="#e06362" opacity=".7"/>
<circle cx="1172.3" cy="343.5" r="13.04" fill="#e06362" opacity=".7"/>
<circle cx="1172.0" cy="343.5" r="13.04" fill="#e06362" opacity=".7"/>
<circle cx="1172.5" cy="343.5" r="13.04" fill="#e06362" opacity=".7"/>
<circle cx="1153.4" cy="343.5" r="13.04" fill="#e06362" opacity=".7"/>
<circle cx="1159.0" cy="343.5" r="13.04" fill="#e06362" opacity=".7"/>
<circle cx="1036.2" cy="343.5" r="13.04" fill="#e06362" opacity=".7"/>
<circle cx="1145.6" cy="343.5" r="13.04" fill="#e06362" opacity=".7"/>
<circle cx="1056.0" cy="343.5" r="13.04" fill="#e06362" opacity=".7"/>
<circle cx="1170.5" cy="343.5" r="13.04" fill="#e06362" opacity=".7"/>
<circle cx="1136.5" cy="343.5" r="13.04" fill="#e06362" opacity=".7"/>
<circle cx="1036.4" cy="343.5" r="13.04" fill="#e06362" opacity=".7"/>
<circle cx="1158.8" cy="343.5" r="13.04" fill="#e06362" opacity=".7"/>
<circle cx="1119.6" cy="343.5" r="13.04" fill="#e06362" opacity=".7"/>
<circle cx="1170.2" cy="343.5" r="13.04" fill="#e06362" opacity=".7"/>
<circle cx="1131.6" cy="352.4" r="12.99" fill="#dc5e66" opacity=".7"/>
<circle cx="1147.6" cy="352.4" r="12.99" fill="#dc5e66" opacity=".7"/>
<circle cx="1040.3" cy="352.4" r="12.99" fill="#dc5e66" opacity=".7"/>
<circle cx="1184.4" cy="352.4" r="12.99" fill="#dc5e66" opacity=".7"/>
<circle cx="1193.0" cy="352.4" r="12.99" fill="#dc5e66" opacity=".7"/>
<circle cx="1053.7" cy="352.4" r="12.99" fill="#dc5e66" opacity=".7"/>
<circle cx="1036.8" cy="352.4" r="12.99" fill="#dc5e66" opacity=".7"/>
<circle cx="1174.6" cy="352.4" r="12.99" fill="#dc5e66" opacity=".7"/>
<circle cx="1157.0" cy="352.4" r="12.99" fill="#dc5e66" opacity=".7"/>
<circle cx="1174.9" cy="352.4" r="12.99" fill="#dc5e66" opacity=".7"/>
<circle cx="1167.5" cy="352.4" r="12.99" fill="#dc5e66" opacity=".7"/>
<circle cx="1139.6" cy="352.4" r="12.99" fill="#dc5e66" opacity=".7"/>
<circle cx="1033.1" cy="352.4" r="12.99" fill="#dc5e66" opacity=".7"/>
<circle cx="1032.7" cy="352.4" r="12.99" fill="#dc5e66" opacity=".7"/>
<circle cx="1193.0" cy="352.4" r="12.99" fill="#dc5e66" opacity=".7"/>
<circle cx="1124.0" cy="352.4" r="12.99" fill="#dc5e66" opacity=".7"/>
<circle cx="1184.7" cy="352.4" r="12.99" fill="#dc5e66" opacity=".7"/>
<circle cx="1167.8" cy="352.4" r="12.99" fill="#dc5e66" opacity=".7"/>
<circle cx="1184.9" cy="352.4" r="12.99" fill="#dc5e66" opacity=".7"/>
<circle cx="1052.8" cy="352.4" r="12.99" fill="#dc5e66" opacity=".7"/>
<circle cx="1124.0" cy="352.4" r="12.99" fill="#dc5e66" opacity=".7"/>
<circle cx="1187.7" cy="362.4" r="12.93" fill="#d9586a" opacity=".7"/>
<circle cx="1050.6" cy="362.4" r="12.93" fill="#d9586a" opacity=".7"/>
<circle cx="1145.1" cy="362.4" r="12.93" fill="#d9586a" opacity=".7"/>
<circle cx="1178.2" cy="362.4" r="12.93" fill="#d9586a" opacity=".7"/>
<circle cx="1180.5" cy="362.4" r="12.93" fill="#d9586a" opacity=".7"/>
<circle cx="1180.2" cy="362.4" r="12.93" fill="#d9586a" opacity=".7"/>
<circle cx="1046.7" cy="362.4" r="12.93" fill="#d9586a" opacity=".7"/>
<circle cx="1029.9" cy="362.4" r="12.93" fill="#d9586a" opacity=".7"/>
<circle cx="1180.7" cy="362.4" r="12.93" fill="#d9586a" opacity=".7"/>
<circle cx="1142.5" cy="362.4" r="12.93" fill="#d9586a" opacity=".7"/>
<circle cx="1038.4" cy="362.4" r="12.93" fill="#d9586a" opacity=".7"/>
<circle cx="1163.6" cy="362.4" r="12.93" fill="#d9586a" opacity=".7"/>
<circle cx="1030.8" cy="362.4" r="12.93" fill="#d9586a" opacity=".7"/>
<circle cx="1195.6" cy="362.4" r="12.93" fill="#d9586a" opacity=".7"/>
<circle cx="1144.8" cy="362.4" r="12.93" fill="#d9586a" opacity=".7"/>
<circle cx="1050.6" cy="362.4" r="12.93" fill="#d9586a" opacity=".7"/>
<circle cx="1187.4" cy="362.4" r="12.93" fill="#d9586a" opacity=".7"/>
<circle cx="1163.9" cy="362.4" r="12.93" fill="#d9586a" opacity=".7"/>
<circle cx="1153.6" cy="362.4" r="12.93" fill="#d9586a" opacity=".7"/>
<circle cx="1146.0" cy="362.4" r="12.93" fill="#d9586a" opacity=".7"/>
<circle cx="1178.5" cy="362.4" r="12.93" fill="#d9586a" opacity=".7"/>
<circle cx="1146.0" cy="362.4" r="12.93" fill="#d9586a" opacity=".7"/>
<circle cx="1178.7" cy="362.4" r="12.93" fill="#d9586a" opacity=".7"/>
<circle cx="1163.4" cy="362.4" r="12.93" fill="#d9586a" opacity=".7"/>
<circle cx="1142.3" cy="362.4" r="12.93" fill="#d9586a" opacity=".7"/>
<circle cx="1201.0" cy="371.3" r="12.88" fill="#d5536e" opacity=".7"/>
<circle cx="1047.0" cy="371.3" r="12.88" fill="#d5536e" opacity=".7"/>
<circle cx="1177.6" cy="371.3" r="12.88" fill="#d5536e" opacity=".7"/>
<circle cx="1161.0" cy="371.3" r="12.88" fill="#d5536e" opacity=".7"/>
<circle cx="1029.6" cy="371.3" r="12.88" fill="#d5536e" opacity=".7"/>
<circle cx="1169.6" cy="371.3" r="12.88" fill="#d5536e" opacity=".7"/>
<circle cx="1029.0" cy="371.3" r="12.88" fill="#d5536e" opacity=".7"/>
<circle cx="1029.8" cy="371.3" r="12.88" fill="#d5536e" opacity=".7"/>
<circle cx="1185.6" cy="371.3" r="12.88" fill="#d5536e" opacity=".7"/>
<circle cx="1161.0" cy="371.3" r="12.88" fill="#d5536e" opacity=".7"/>
<circle cx="1047.0" cy="371.3" r="12.88" fill="#d5536e" opacity=".7"/>
<circle cx="1201.0" cy="371.3" r="12.88" fill="#d5536e" opacity=".7"/>
<circle cx="1030.1" cy="371.3" r="12.88" fill="#d5536e" opacity=".7"/>
<circle cx="1193.6" cy="371.3" r="12.88" fill="#d5536e" opacity=".7"/>
<circle cx="1042.7" cy="381.3" r="12.82" fill="#d04d73" opacity=".7"/>
<circle cx="1182.5" cy="381.3" r="12.82" fill="#d04d73" opacity=".7"/>
<circle cx="1182.3" cy="381.3" r="12.82" fill="#d04d73" opacity=".7"/>
<circle cx="1198.0" cy="381.3" r="12.82" fill="#d04d73" opacity=".7"/>
<circle cx="1028.0" cy="381.3" r="12.82" fill="#d04d73" opacity=".7"/>
<circle cx="1197.5" cy="381.3" r="12.82" fill="#d04d73" opacity=".7"/>
<circle cx="1166.3" cy="381.3" r="12.82" fill="#d04d73" opacity=".7"/>
<circle cx="1189.6" cy="381.3" r="12.82" fill="#d04d73" opacity=".7"/>
<circle cx="1205.6" cy="381.3" r="12.82" fill="#d04d73" opacity=".7"/>
<circle cx="1028.9" cy="381.3" r="12.82" fill="#d04d73" opacity=".7"/>
<circle cx="1197.3" cy="381.3" r="12.82" fill="#d04d73" opacity=".7"/>
<circle cx="1166.0" cy="381.3" r="12.82" fill="#d04d73" opacity=".7"/>
<circle cx="1169.0" cy="381.3" r="12.82" fill="#d04d73" opacity=".7"/>
<circle cx="1169.0" cy="381.3" r="12.82" fill="#d04d73" opacity=".7"/>
<circle cx="1197.8" cy="381.3" r="12.82" fill="#d04d73" opacity=".7"/>
<circle cx="1039.2" cy="381.3" r="12.82" fill="#d04d73" opacity=".7"/>
<circle cx="1182.0" cy="381.3" r="12.82" fill="#d04d73" opacity=".7"/>
<circle cx="1043.0" cy="381.3" r="12.82" fill="#d04d73" opacity=".7"/>
<circle cx="1026.8" cy="393.2" r="12.75" fill="#ca4779" opacity=".7"/>
<circle cx="1205.2" cy="393.2" r="12.75" fill="#ca4779" opacity=".7"/>
<circle cx="1040.4" cy="393.2" r="12.75" fill="#ca4779" opacity=".7"/>
<circle cx="1040.9" cy="393.2" r="12.75" fill="#ca4779" opacity=".7"/>
<circle cx="1189.6" cy="393.2" r="12.75" fill="#ca4779" opacity=".7"/>
<circle cx="1216.0" cy="393.2" r="12.75" fill="#ca4779" opacity=".7"/>
<circle cx="1205.4" cy="393.2" r="12.75" fill="#ca4779" opacity=".7"/>
<circle cx="1176.1" cy="393.2" r="12.75" fill="#ca4779" opacity=".7"/>
<circle cx="1204.9" cy="393.2" r="12.75" fill="#ca4779" opacity=".7"/>
<circle cx="1202.6" cy="393.2" r="12.75" fill="#ca4779" opacity=".7"/>
<circle cx="1203.1" cy="393.2" r="12.75" fill="#ca4779" opacity=".7"/>
<circle cx="1021.4" cy="393.2" r="12.75" fill="#ca4779" opacity=".7"/>
<circle cx="1022.3" cy="393.2" r="12.75" fill="#ca4779" opacity=".7"/>
<circle cx="1202.9" cy="393.2" r="12.75" fill="#ca4779" opacity=".7"/>
<circle cx="1216.0" cy="393.2" r="12.75" fill="#ca4779" opacity=".7"/>
<circle cx="1041.2" cy="393.2" r="12.75" fill="#ca4779" opacity=".7"/>
<circle cx="1203.4" cy="393.2" r="12.75" fill="#ca4779" opacity=".7"/>
<circle cx="1189.8" cy="393.2" r="12.75" fill="#ca4779" opacity=".7"/>
<circle cx="1189.3" cy="393.2" r="12.75" fill="#ca4779" opacity=".7"/>
<circle cx="1190.1" cy="393.2" r="12.75" fill="#ca4779" opacity=".7"/>
<circle cx="1016.7" cy="403.1" r="12.69" fill="#c5417e" opacity=".7"/>
<circle cx="1231.7" cy="403.1" r="12.69" fill="#c5417e" opacity=".7"/>
<circle cx="1242.3" cy="403.1" r="12.69" fill="#c5417e" opacity=".7"/>
<circle cx="1242.1" cy="403.1" r="12.69" fill="#c5417e" opacity=".7"/>
<circle cx="1228.9" cy="403.1" r="12.69" fill="#c5417e" opacity=".7"/>
<circle cx="1247.7" cy="403.1" r="12.69" fill="#c5417e" opacity=".7"/>
<circle cx="1206.8" cy="403.1" r="12.69" fill="#c5417e" opacity=".7"/>
<circle cx="1033.3" cy="403.1" r="12.69" fill="#c5417e" opacity=".7"/>
<circle cx="1184.0" cy="403.1" r="12.69" fill="#c5417e" opacity=".7"/>
<circle cx="1191.6" cy="403.1" r="12.69" fill="#c5417e" opacity=".7"/>
<circle cx="1024.0" cy="403.1" r="12.69" fill="#c5417e" opacity=".7"/>
<circle cx="1215.6" cy="403.1" r="12.69" fill="#c5417e" opacity=".7"/>
<circle cx="1206.6" cy="403.1" r="12.69" fill="#c5417e" opacity=".7"/>
<circle cx="1184.0" cy="403.1" r="12.69" fill="#c5417e" opacity=".7"/>
<circle cx="1228.4" cy="403.1" r="12.69" fill="#c5417e" opacity=".7"/>
<circle cx="1017.3" cy="403.1" r="12.69" fill="#c5417e" opacity=".7"/>
<circle cx="1248.2" cy="403.1" r="12.69" fill="#c5417e" opacity=".7"/>
<circle cx="1231.9" cy="403.1" r="12.69" fill="#c5417e" opacity=".7"/>
<circle cx="1241.8" cy="403.1" r="12.69" fill="#c5417e" opacity=".7"/>
<circle cx="1238.0" cy="403.1" r="12.69" fill="#c5417e" opacity=".7"/>
<circle cx="1039.6" cy="403.1" r="12.69" fill="#c5417e" opacity=".7"/>
<circle cx="1039.9" cy="403.1" r="12.69" fill="#c5417e" opacity=".7"/>
<circle cx="1238.0" cy="403.1" r="12.69" fill="#c5417e" opacity=".7"/>
<circle cx="1228.6" cy="403.1" r="12.69" fill="#c5417e" opacity=".7"/>
<circle cx="1247.9" cy="403.1" r="12.69" fill="#c5417e" opacity=".7"/>
<circle cx="1247.4" cy="403.1" r="12.69" fill="#c5417e" opacity=".7"/>
<circle cx="1229.1" cy="403.1" r="12.69" fill="#c5417e" opacity=".7"/>
<circle cx="1220.0" cy="413.1" r="12.63" fill="#c13b82" opacity=".7"/>
<circle cx="1262.1" cy="413.1" r="12.63" fill="#c13b82" opacity=".7"/>
<circle cx="1253.6" cy="413.1" r="12.63" fill="#c13b82" opacity=".7"/>
<circle cx="1015.2" cy="413.1" r="12.63" fill="#c13b82" opacity=".7"/>
<circle cx="1037.4" cy="413.1" r="12.63" fill="#c13b82" opacity=".7"/>
<circle cx="1200.6" cy="413.1" r="12.63" fill="#c13b82" opacity=".7"/>
<circle cx="1245.6" cy="413.1" r="12.63" fill="#c13b82" opacity=".7"/>
<circle cx="1261.0" cy="413.1" r="12.63" fill="#c13b82" opacity=".7"/>
<circle cx="1200.4" cy="413.1" r="12.63" fill="#c13b82" opacity=".7"/>
<circle cx="1229.6" cy="413.1" r="12.63" fill="#c13b82" opacity=".7"/>
<circle cx="1262.4" cy="413.1" r="12.63" fill="#c13b82" opacity=".7"/>
<circle cx="1211.0" cy="413.1" r="12.63" fill="#c13b82" opacity=".7"/>
<circle cx="1192.2" cy="413.1" r="12.63" fill="#c13b82" opacity=".7"/>
<circle cx="1221.6" cy="413.1" r="12.63" fill="#c13b82" opacity=".7"/>
<circle cx="1261.6" cy="413.1" r="12.63" fill="#c13b82" opacity=".7"/>
<circle cx="1196.1" cy="413.1" r="12.63" fill="#c13b82" opacity=".7"/>
<circle cx="1015.5" cy="413.1" r="12.63" fill="#c13b82" opacity=".7"/>
<circle cx="1039.4" cy="413.1" r="12.63" fill="#c13b82" opacity=".7"/>
<circle cx="1261.9" cy="413.1" r="12.63" fill="#c13b82" opacity=".7"/>
<circle cx="1221.8" cy="413.1" r="12.63" fill="#c13b82" opacity=".7"/>
<circle cx="1237.6" cy="413.1" r="12.63" fill="#c13b82" opacity=".7"/>
<circle cx="1033.5" cy="413.1" r="12.63" fill="#c13b82" opacity=".7"/>
<circle cx="1210.8" cy="413.1" r="12.63" fill="#c13b82" opacity=".7"/>
<circle cx="1195.8" cy="413.1" r="12.63" fill="#c13b82" opacity=".7"/>
<circle cx="1039.4" cy="413.1" r="12.63" fill="#c13b82" opacity=".7"/>
<circle cx="1261.0" cy="413.1" r="12.63" fill="#c13b82" opacity=".7"/>
<circle cx="1219.7" cy="413.1" r="12.63" fill="#c13b82" opacity=".7"/>
<circle cx="1234.0" cy="423.0" r="12.58" fill="#bc3687" opacity=".7"/>
<circle cx="1236.9" cy="423.0" r="12.58" fill="#bc3687" opacity=".7"/>
<circle cx="1236.6" cy="423.0" r="12.58" fill="#bc3687" opacity=".7"/>
<circle cx="1237.1" cy="423.0" r="12.58" fill="#bc3687" opacity=".7"/>
<circle cx="1225.6" cy="423.0" r="12.58" fill="#bc3687" opacity=".7"/>
<circle cx="1038.8" cy="423.0" r="12.58" fill="#bc3687" opacity=".7"/>
<circle cx="1039.8" cy="423.0" r="12.58" fill="#bc3687" opacity=".7"/>
<circle cx="1194.6" cy="423.0" r="12.58" fill="#bc3687" opacity=".7"/>
<circle cx="1251.5" cy="423.0" r="12.58" fill="#bc3687" opacity=".7"/>
<circle cx="1252.2" cy="423.0" r="12.58" fill="#bc3687" opacity=".7"/>
<circle cx="1014.4" cy="423.0" r="12.58" fill="#bc3687" opacity=".7"/>
<circle cx="1194.0" cy="423.0" r="12.58" fill="#bc3687" opacity=".7"/>
<circle cx="1233.5" cy="423.0" r="12.58" fill="#bc3687" opacity=".7"/>
<circle cx="1233.7" cy="423.0" r="12.58" fill="#bc3687" opacity=".7"/>
<circle cx="1259.4" cy="423.0" r="12.58" fill="#bc3687" opacity=".7"/>
<circle cx="1194.0" cy="423.0" r="12.58" fill="#bc3687" opacity=".7"/>
<circle cx="1212.5" cy="423.0" r="12.58" fill="#bc3687" opacity=".7"/>
<circle cx="1216.9" cy="423.0" r="12.58" fill="#bc3687" opacity=".7"/>
<circle cx="1263.5" cy="423.0" r="12.58" fill="#bc3687" opacity=".7"/>
<circle cx="1251.7" cy="423.0" r="12.58" fill="#bc3687" opacity=".7"/>
<circle cx="1013.8" cy="423.0" r="12.58" fill="#bc3687" opacity=".7"/>
<circle cx="1237.4" cy="423.0" r="12.58" fill="#bc3687" opacity=".7"/>
<circle cx="1234.2" cy="423.0" r="12.58" fill="#bc3687" opacity=".7"/>
<circle cx="1014.4" cy="423.0" r="12.58" fill="#bc3687" opacity=".7"/>
<circle cx="1026.1" cy="423.0" r="12.58" fill="#bc3687" opacity=".7"/>
<circle cx="1019.9" cy="423.0" r="12.58" fill="#bc3687" opacity=".7"/>
<circle cx="1252.0" cy="423.0" r="12.58" fill="#bc3687" opacity=".7"/>
<circle cx="1201.6" cy="423.0" r="12.58" fill="#bc3687" opacity=".7"/>
<circle cx="1019.1" cy="433.0" r="12.52" fill="#b6308b" opacity=".7"/>
<circle cx="1214.5" cy="433.0" r="12.52" fill="#b6308b" opacity=".7"/>
<circle cx="1239.4" cy="433.0" r="12.52" fill="#b6308b" opacity=".7"/>
<circle cx="1209.0" cy="433.0" r="12.52" fill="#b6308b" opacity=".7"/>
<circle cx="1023.5" cy="433.0" r="12.52" fill="#b6308b" opacity=".7"/>
<circle cx="1209.6" cy="433.0" r="12.52" fill="#b6308b" opacity=".7"/>
<circle cx="1223.6" cy="433.0" r="12.52" fill="#b6308b" opacity=".7"/>
<circle cx="1239.6" cy="433.0" r="12.52" fill="#b6308b" opacity=".7"/>
<circle cx="1013.9" cy="433.0" r="12.52" fill="#b6308b" opacity=".7"/>
<circle cx="1209.0" cy="433.0" r="12.52" fill="#b6308b" opacity=".7"/>
<circle cx="1214.8" cy="433.0" r="12.52" fill="#b6308b" opacity=".7"/>
<circle cx="1022.4" cy="433.0" r="12.52" fill="#b6308b" opacity=".7"/>
<circle cx="1239.1" cy="433.0" r="12.52" fill="#b6308b" opacity=".7"/>
<circle cx="1214.3" cy="433.0" r="12.52" fill="#b6308b" opacity=".7"/>
<circle cx="1037.5" cy="433.0" r="12.52" fill="#b6308b" opacity=".7"/>
<circle cx="1250.3" cy="433.0" r="12.52" fill="#b6308b" opacity=".7"/>
<circle cx="1036.5" cy="433.0" r="12.52" fill="#b6308b" opacity=".7"/>
<circle cx="1231.6" cy="433.0" r="12.52" fill="#b6308b" opacity=".7"/>
<circle cx="1257.6" cy="433.0" r="12.52" fill="#b6308b" opacity=".7"/>
<circle cx="1209.3" cy="433.0" r="12.52" fill="#b6308b" opacity=".7"/>
<circle cx="1013.0" cy="433.0" r="12.52" fill="#b6308b" opacity=".7"/>
<circle cx="1233.6" cy="442.9" r="12.46" fill="#b02b8f" opacity=".7"/>
<circle cx="1027.8" cy="442.9" r="12.46" fill="#b02b8f" opacity=".7"/>
<circle cx="1266.0" cy="442.9" r="12.46" fill="#b02b8f" opacity=".7"/>
<circle cx="1257.6" cy="442.9" r="12.46" fill="#b02b8f" opacity=".7"/>
<circle cx="1225.6" cy="442.9" r="12.46" fill="#b02b8f" opacity=".7"/>
<circle cx="1012.7" cy="442.9" r="12.46" fill="#b02b8f" opacity=".7"/>
<circle cx="1225.9" cy="442.9" r="12.46" fill="#b02b8f" opacity=".7"/>
<circle cx="1030.6" cy="442.9" r="12.46" fill="#b02b8f" opacity=".7"/>
<circle cx="1226.1" cy="442.9" r="12.46" fill="#b02b8f" opacity=".7"/>
<circle cx="1218.4" cy="442.9" r="12.46" fill="#b02b8f" opacity=".7"/>
<circle cx="1241.6" cy="442.9" r="12.46" fill="#b02b8f" opacity=".7"/>
<circle cx="1013.2" cy="442.9" r="12.46" fill="#b02b8f" opacity=".7"/>
<circle cx="1031.5" cy="442.9" r="12.46" fill="#b02b8f" opacity=".7"/>
<circle cx="1249.6" cy="442.9" r="12.46" fill="#b02b8f" opacity=".7"/>
<circle cx="1016.1" cy="442.9" r="12.46" fill="#b02b8f" opacity=".7"/>
<circle cx="1225.4" cy="442.9" r="12.46" fill="#b02b8f" opacity=".7"/>
<circle cx="1266.0" cy="442.9" r="12.46" fill="#b02b8f" opacity=".7"/>
<circle cx="1426.0" cy="456.8" r="12.37" fill="#a82395" opacity=".7"/>
<circle cx="1431.0" cy="456.8" r="12.37" fill="#a82395" opacity=".7"/>
<circle cx="1023.0" cy="456.8" r="12.37" fill="#a82395" opacity=".7"/>
<circle cx="1265.0" cy="456.8" r="12.37" fill="#a82395" opacity=".7"/>
<circle cx="1244.9" cy="456.8" r="12.37" fill="#a82395" opacity=".7"/>
<circle cx="1281.0" cy="456.8" r="12.37" fill="#a82395" opacity=".7"/>
<circle cx="1264.2" cy="456.8" r="12.37" fill="#a82395" opacity=".7"/>
<circle cx="1013.1" cy="456.8" r="12.37" fill="#a82395" opacity=".7"/>
<circle cx="1237.6" cy="456.8" r="12.37" fill="#a82395" opacity=".7"/>
<circle cx="1273.1" cy="456.8" r="12.37" fill="#a82395" opacity=".7"/>
<circle cx="1281.0" cy="456.8" r="12.37" fill="#a82395" opacity=".7"/>
<circle cx="1229.6" cy="456.8" r="12.37" fill="#a82395" opacity=".7"/>
<circle cx="1264.7" cy="456.8" r="12.37" fill="#a82395" opacity=".7"/>
<circle cx="1272.4" cy="456.8" r="12.37" fill="#a82395" opacity=".7"/>
<circle cx="1221.0" cy="456.8" r="12.37" fill="#a82395" opacity=".7"/>
<circle cx="1244.6" cy="456.8" r="12.37" fill="#a82395" opacity=".7"/>
<circle cx="1264.5" cy="456.8" r="12.37" fill="#a82395" opacity=".7"/>
<circle cx="1013.8" cy="456.8" r="12.37" fill="#a82395" opacity=".7"/>
<circle cx="1245.1" cy="456.8" r="12.37" fill="#a82395" opacity=".7"/>
<circle cx="1272.6" cy="456.8" r="12.37" fill="#a82395" opacity=".7"/>
<circle cx="1221.0" cy="456.8" r="12.37" fill="#a82395" opacity=".7"/>
<circle cx="1025.1" cy="456.8" r="12.37" fill="#a82395" opacity=".7"/>
<circle cx="1257.6" cy="456.8" r="12.37" fill="#a82395" opacity=".7"/>
<circle cx="1272.9" cy="456.8" r="12.37" fill="#a82395" opacity=".7"/>
<circle cx="1026.0" cy="456.8" r="12.37" fill="#a82395" opacity=".7"/>
<circle cx="1370.0" cy="470.5" r="12.29" fill="#a01b9b" opacity=".7"/>
<circle cx="1385.0" cy="470.5" r="12.29" fill="#a01b9b" opacity=".7"/>
<circle cx="1341.0" cy="470.5" r="12.29" fill="#a01b9b" opacity=".7"/>
<circle cx="1336.0" cy="470.5" r="12.29" fill="#a01b9b" opacity=".7"/>
<circle cx="1403.0" cy="470.5" r="12.29" fill="#a01b9b" opacity=".7"/>
<circle cx="1280.5" cy="471.2" r="12.29" fill="#a01b9b" opacity=".7"/>
<circle cx="1303.0" cy="471.2" r="12.29" fill="#a01b9b" opacity=".7"/>
<circle cx="1291.0" cy="471.2" r="12.29" fill="#a01b9b" opacity=".7"/>
<circle cx="1278.6" cy="471.2" r="12.29" fill="#a01b9b" opacity=".7"/>
<circle cx="1303.0" cy="471.2" r="12.29" fill="#a01b9b" opacity=".7"/>
<circle cx="1267.2" cy="471.2" r="12.29" fill="#a01b9b" opacity=".7"/>
<circle cx="1270.6" cy="471.2" r="12.29" fill="#a01b9b" opacity=".7"/>
<circle cx="1291.0" cy="471.2" r="12.29" fill="#a01b9b" opacity=".7"/>
<circle cx="1023.2" cy="471.2" r="12.29" fill="#a01b9b" opacity=".7"/>
<circle cx="1282.3" cy="471.2" r="12.29" fill="#a01b9b" opacity=".7"/>
<circle cx="1237.6" cy="471.2" r="12.29" fill="#a01b9b" opacity=".7"/>
<circle cx="1229.6" cy="471.2" r="12.29" fill="#a01b9b" opacity=".7"/>
<circle cx="1005.0" cy="471.2" r="12.29" fill="#a01b9b" opacity=".7"/>
<circle cx="1291.9" cy="471.2" r="12.29" fill="#a01b9b" opacity=".7"/>
<circle cx="1222.0" cy="471.2" r="12.29" fill="#a01b9b" opacity=".7"/>
<circle cx="1004.4" cy="471.2" r="12.29" fill="#a01b9b" opacity=".7"/>
<circle cx="1278.1" cy="471.2" r="12.29" fill="#a01b9b" opacity=".7"/>
<circle cx="1010.5" cy="471.2" r="12.29" fill="#a01b9b" opacity=".7"/>
<circle cx="1270.9" cy="471.2" r="12.29" fill="#a01b9b" opacity=".7"/>
<circle cx="1023.6" cy="471.2" r="12.29" fill="#a01b9b" opacity=".7"/>
<circle cx="1278.3" cy="471.2" r="12.29" fill="#a01b9b" opacity=".7"/>
<circle cx="1253.6" cy="471.2" r="12.29" fill="#a01b9b" opacity=".7"/>
<circle cx="1271.1" cy="471.2" r="12.29" fill="#a01b9b" opacity=".7"/>
<circle cx="1267.4" cy="471.2" r="12.29" fill="#a01b9b" opacity=".7"/>
<circle cx="1011.3" cy="471.2" r="12.29" fill="#a01b9b" opacity=".7"/>
<circle cx="1245.6" cy="471.2" r="12.29" fill="#a01b9b" opacity=".7"/>
<circle cx="1289.3" cy="483.2" r="12.21" fill="#98159f" opacity=".7"/>
<circle cx="1435.6" cy="483.2" r="12.21" fill="#98159f" opacity=".7"/>
<circle cx="1285.0" cy="483.2" r="12.21" fill="#98159f" opacity=".7"/>
<circle cx="1231.6" cy="483.2" r="12.21" fill="#98159f" opacity=".7"/>
<circle cx="1427.6" cy="483.2" r="12.21" fill="#98159f" opacity=".7"/>
<circle cx="1350.4" cy="483.2" r="12.21" fill="#98159f" opacity=".7"/>
<circle cx="1304.0" cy="483.2" r="12.21" fill="#98159f" opacity=".7"/>
<circle cx="1411.8" cy="483.2" r="12.21" fill="#98159f" opacity=".7"/>
<circle cx="1366.3" cy="483.2" r="12.21" fill="#98159f" opacity=".7"/>
<circle cx="1311.6" cy="483.2" r="12.21" fill="#98159f" opacity=".7"/>
<circle cx="1357.6" cy="483.2" r="12.21" fill="#98159f" opacity=".7"/>
<circle cx="1399.7" cy="483.2" r="12.21" fill="#98159f" opacity=".7"/>
<circle cx="1287.5" cy="483.2" r="12.21" fill="#98159f" opacity=".7"/>
<circle cx="1284.5" cy="483.2" r="12.21" fill="#98159f" opacity=".7"/>
<circle cx="1006.0" cy="483.2" r="12.21" fill="#98159f" opacity=".7"/>
<circle cx="1443.6" cy="483.2" r="12.21" fill="#98159f" opacity=".7"/>
<circle cx="1223.1" cy="483.2" r="12.21" fill="#98159f" opacity=".7"/>
<circle cx="1024.2" cy="483.2" r="12.21" fill="#98159f" opacity=".7"/>
<circle cx="1287.0" cy="483.2" r="12.21" fill="#98159f" opacity=".7"/>
<circle cx="1366.0" cy="483.2" r="12.21" fill="#98159f" opacity=".7"/>
<circle cx="1395.3" cy="483.2" r="12.21" fill="#98159f" opacity=".7"/>
<circle cx="1335.6" cy="483.2" r="12.21" fill="#98159f" opacity=".7"/>
<circle cx="1269.2" cy="483.2" r="12.21" fill="#98159f" opacity=".7"/>
<circle cx="1395.1" cy="483.2" r="12.21" fill="#98159f" opacity=".7"/>
<circle cx="1268.9" cy="483.2" r="12.21" fill="#98159f" opacity=".7"/>
<circle cx="1287.3" cy="483.2" r="12.21" fill="#98159f" opacity=".7"/>
<circle cx="1285.2" cy="483.2" r="12.21" fill="#98159f" opacity=".7"/>
<circle cx="1002.3" cy="483.2" r="12.21" fill="#98159f" opacity=".7"/>
<circle cx="1223.0" cy="483.2" r="12.21" fill="#98159f" opacity=".7"/>
<circle cx="1395.6" cy="483.2" r="12.21" fill="#98159f" opacity=".7"/>
<circle cx="1284.7" cy="483.2" r="12.21" fill="#98159f" opacity=".7"/>
<circle cx="1365.8" cy="483.2" r="12.21" fill="#98159f" opacity=".7"/>
<circle cx="1319.6" cy="483.2" r="12.21" fill="#98159f" opacity=".7"/>
<circle cx="1247.6" cy="483.2" r="12.21" fill="#98159f" opacity=".7"/>
<circle cx="1018.6" cy="483.2" r="12.21" fill="#98159f" opacity=".7"/>
<circle cx="1388.0" cy="483.2" r="12.21" fill="#98159f" opacity=".7"/>
<circle cx="1327.6" cy="483.2" r="12.21" fill="#98159f" opacity=".7"/>
<circle cx="1239.6" cy="483.2" r="12.21" fill="#98159f" opacity=".7"/>
<circle cx="1387.7" cy="483.2" r="12.21" fill="#98159f" opacity=".7"/>
<circle cx="1223.0" cy="483.2" r="12.21" fill="#98159f" opacity=".7"/>
<circle cx="1001.5" cy="483.2" r="12.21" fill="#98159f" opacity=".7"/>
<circle cx="1400.2" cy="483.2" r="12.21" fill="#98159f" opacity=".7"/>
<circle cx="1350.1" cy="483.2" r="12.21" fill="#98159f" opacity=".7"/>
<circle cx="1400.0" cy="483.2" r="12.21" fill="#98159f" opacity=".7"/>
<circle cx="1419.6" cy="483.2" r="12.21" fill="#98159f" opacity=".7"/>
<circle cx="1223.3" cy="483.2" r="12.21" fill="#98159f" opacity=".7"/>
<circle cx="1024.1" cy="483.2" r="12.21" fill="#98159f" opacity=".7"/>
<circle cx="1373.6" cy="483.2" r="12.21" fill="#98159f" opacity=".7"/>
<circle cx="1294.3" cy="483.2" r="12.21" fill="#98159f" opacity=".7"/>
<circle cx="1255.6" cy="483.2" r="12.21" fill="#98159f" opacity=".7"/>
<circle cx="1293.6" cy="493.6" r="12.15" fill="#9111a1" opacity=".7"/>
<circle cx="1226.0" cy="493.6" r="12.15" fill="#9111a1" opacity=".7"/>
<circle cx="1253.9" cy="493.6" r="12.15" fill="#9111a1" opacity=".7"/>
<circle cx="1437.1" cy="493.6" r="12.15" fill="#9111a1" opacity=".7"/>
<circle cx="1391.2" cy="493.6" r="12.15" fill="#9111a1" opacity=".7"/>
<circle cx="1421.7" cy="493.6" r="12.15" fill="#9111a1" opacity=".7"/>
<circle cx="1420.4" cy="493.6" r="12.15" fill="#9111a1" opacity=".7"/>
<circle cx="1011.5" cy="493.6" r="12.15" fill="#9111a1" opacity=".7"/>
<circle cx="1418.3" cy="493.6" r="12.15" fill="#9111a1" opacity=".7"/>
<circle cx="1261.6" cy="493.6" r="12.15" fill="#9111a1" opacity=".7"/>
<circle cx="1343.6" cy="493.6" r="12.15" fill="#9111a1" opacity=".7"/>
<circle cx="1000.6" cy="493.6" r="12.15" fill="#9111a1" opacity=".7"/>
<circle cx="1393.8" cy="493.6" r="12.15" fill="#9111a1" opacity=".7"/>
<circle cx="1436.6" cy="493.6" r="12.15" fill="#9111a1" opacity=".7"/>
<circle cx="1020.4" cy="493.6" r="12.15" fill="#9111a1" opacity=".7"/>
<circle cx="1301.6" cy="493.6" r="12.15" fill="#9111a1" opacity=".7"/>
<circle cx="1347.7" cy="493.6" r="12.15" fill="#9111a1" opacity=".7"/>
<circle cx="1355.6" cy="493.6" r="12.15" fill="#9111a1" opacity=".7"/>
<circle cx="1370.5" cy="493.6" r="12.15" fill="#9111a1" opacity=".7"/>
<circle cx="1254.4" cy="493.6" r="12.15" fill="#9111a1" opacity=".7"/>
<circle cx="1401.6" cy="493.6" r="12.15" fill="#9111a1" opacity=".7"/>
<circle cx="1241.6" cy="493.6" r="12.15" fill="#9111a1" opacity=".7"/>
<circle cx="1370.8" cy="493.6" r="12.15" fill="#9111a1" opacity=".7"/>
<circle cx="1000.9" cy="493.6" r="12.15" fill="#9111a1" opacity=".7"/>
<circle cx="1409.6" cy="493.6" r="12.15" fill="#9111a1" opacity=".7"/>
<circle cx="1362.9" cy="493.6" r="12.15" fill="#9111a1" opacity=".7"/>
<circle cx="1391.4" cy="493.6" r="12.15" fill="#9111a1" opacity=".7"/>
<circle cx="1342.8" cy="493.6" r="12.15" fill="#9111a1" opacity=".7"/>
<circle cx="1333.6" cy="493.6" r="12.15" fill="#9111a1" opacity=".7"/>
<circle cx="1436.8" cy="493.6" r="12.15" fill="#9111a1" opacity=".7"/>
<circle cx="1318.2" cy="493.6" r="12.15" fill="#9111a1" opacity=".7"/>
<circle cx="1382.2" cy="493.6" r="12.15" fill="#9111a1" opacity=".7"/>
<circle cx="1343.3" cy="493.6" r="12.15" fill="#9111a1" opacity=".7"/>
<circle cx="1020.3" cy="493.6" r="12.15" fill="#9111a1" opacity=".7"/>
<circle cx="1343.1" cy="493.6" r="12.15" fill="#9111a1" opacity=".7"/>
<circle cx="1417.8" cy="493.6" r="12.15" fill="#9111a1" opacity=".7"/>
<circle cx="1277.6" cy="493.6" r="12.15" fill="#9111a1" opacity=".7"/>
<circle cx="1368.0" cy="493.6" r="12.15" fill="#9111a1" opacity=".7"/>
<circle cx="1437.3" cy="493.6" r="12.15" fill="#9111a1" opacity=".7"/>
<circle cx="1422.0" cy="493.6" r="12.15" fill="#9111a1" opacity=".7"/>
<circle cx="1382.0" cy="493.6" r="12.15" fill="#9111a1" opacity=".7"/>
<circle cx="1325.6" cy="493.6" r="12.15" fill="#9111a1" opacity=".7"/>
<circle cx="1367.7" cy="493.6" r="12.15" fill="#9111a1" opacity=".7"/>
<circle cx="1309.6" cy="493.6" r="12.15" fill="#9111a1" opacity=".7"/>
<circle cx="1233.6" cy="493.6" r="12.15" fill="#9111a1" opacity=".7"/>
<circle cx="1226.0" cy="493.6" r="12.15" fill="#9111a1" opacity=".7"/>
<circle cx="1269.6" cy="493.6" r="12.15" fill="#9111a1" opacity=".7"/>
<circle cx="1285.6" cy="493.6" r="12.15" fill="#9111a1" opacity=".7"/>
<circle cx="1254.1" cy="493.6" r="12.15" fill="#9111a1" opacity=".7"/>
<circle cx="1001.3" cy="493.6" r="12.15" fill="#9111a1" opacity=".7"/>
<circle cx="1418.0" cy="493.6" r="12.15" fill="#9111a1" opacity=".7"/>
<circle cx="1425.6" cy="503.1" r="12.09" fill="#8a0da2" opacity=".7"/>
<circle cx="1358.9" cy="503.1" r="12.09" fill="#8a0da2" opacity=".7"/>
<circle cx="1432.7" cy="503.1" r="12.09" fill="#8a0da2" opacity=".7"/>
<circle cx="1303.2" cy="503.1" r="12.09" fill="#8a0da2" opacity=".7"/>
<circle cx="1417.6" cy="503.1" r="12.09" fill="#8a0da2" opacity=".7"/>
<circle cx="1364.3" cy="503.1" r="12.09" fill="#8a0da2" opacity=".7"/>
<circle cx="1255.6" cy="503.1" r="12.09" fill="#8a0da2" opacity=".7"/>
<circle cx="1444.4" cy="503.1" r="12.09" fill="#8a0da2" opacity=".7"/>
<circle cx="1302.7" cy="503.1" r="12.09" fill="#8a0da2" opacity=".7"/>
<circle cx="1313.6" cy="503.1" r="12.09" fill="#8a0da2" opacity=".7"/>
<circle cx="1302.9" cy="503.1" r="12.09" fill="#8a0da2" opacity=".7"/>
<circle cx="1410.1" cy="503.1" r="12.09" fill="#8a0da2" opacity=".7"/>
<circle cx="1383.9" cy="503.1" r="12.09" fill="#8a0da2" opacity=".7"/>
<circle cx="1015.2" cy="503.1" r="12.09" fill="#8a0da2" opacity=".7"/>
<circle cx="1316.1" cy="503.1" r="12.09" fill="#8a0da2" opacity=".7"/>
<circle cx="1356.6" cy="503.1" r="12.09" fill="#8a0da2" opacity=".7"/>
<circle cx="1358.6" cy="503.1" r="12.09" fill="#8a0da2" opacity=".7"/>
<circle cx="1250.0" cy="503.1" r="12.09" fill="#8a0da2" opacity=".7"/>
<circle cx="1017.2" cy="503.1" r="12.09" fill="#8a0da2" opacity=".7"/>
<circle cx="1333.4" cy="503.1" r="12.09" fill="#8a0da2" opacity=".7"/>
<circle cx="1410.3" cy="503.1" r="12.09" fill="#8a0da2" opacity=".7"/>
<circle cx="1276.2" cy="503.1" r="12.09" fill="#8a0da2" opacity=".7"/>
<circle cx="1364.5" cy="503.1" r="12.09" fill="#8a0da2" opacity=".7"/>
<circle cx="1341.6" cy="503.1" r="12.09" fill="#8a0da2" opacity=".7"/>
<circle cx="1333.6" cy="503.1" r="12.09" fill="#8a0da2" opacity=".7"/>
<circle cx="1307.9" cy="503.1" r="12.09" fill="#8a0da2" opacity=".7"/>
<circle cx="1276.5" cy="503.1" r="12.09" fill="#8a0da2" opacity=".7"/>
<circle cx="1316.3" cy="503.1" r="12.09" fill="#8a0da2" opacity=".7"/>
<circle cx="1316.6" cy="503.1" r="12.09" fill="#8a0da2" opacity=".7"/>
<circle cx="1372.3" cy="503.1" r="12.09" fill="#8a0da2" opacity=".7"/>
<circle cx="1000.6" cy="503.1" r="12.09" fill="#8a0da2" opacity=".7"/>
<circle cx="1000.3" cy="503.1" r="12.09" fill="#8a0da2" opacity=".7"/>
<circle cx="1283.6" cy="503.1" r="12.09" fill="#8a0da2" opacity=".7"/>
<circle cx="1410.6" cy="503.1" r="12.09" fill="#8a0da2" opacity=".7"/>
<circle cx="1397.6" cy="503.1" r="12.09" fill="#8a0da2" opacity=".7"/>
<circle cx="1326.9" cy="503.1" r="12.09" fill="#8a0da2" opacity=".7"/>
<circle cx="1356.8" cy="503.1" r="12.09" fill="#8a0da2" opacity=".7"/>
<circle cx="1327.1" cy="503.1" r="12.09" fill="#8a0da2" opacity=".7"/>
<circle cx="1384.2" cy="503.1" r="12.09" fill="#8a0da2" opacity=".7"/>
<circle cx="1291.6" cy="503.1" r="12.09" fill="#8a0da2" opacity=".7"/>
<circle cx="1263.6" cy="503.1" r="12.09" fill="#8a0da2" opacity=".7"/>
<circle cx="1372.5" cy="503.1" r="12.09" fill="#8a0da2" opacity=".7"/>
<circle cx="1389.2" cy="503.1" r="12.09" fill="#8a0da2" opacity=".7"/>
<circle cx="1250.0" cy="503.1" r="12.09" fill="#8a0da2" opacity=".7"/>
<circle cx="1389.5" cy="503.1" r="12.09" fill="#8a0da2" opacity=".7"/>
<circle cx="1016.2" cy="503.1" r="12.09" fill="#8a0da2" opacity=".7"/>
<circle cx="1303.4" cy="503.1" r="12.09" fill="#8a0da2" opacity=".7"/>
<circle cx="1435.2" cy="503.1" r="12.09" fill="#8a0da2" opacity=".7"/>
<circle cx="1359.1" cy="503.1" r="12.09" fill="#8a0da2" opacity=".7"/>
<circle cx="1444.7" cy="503.1" r="12.09" fill="#8a0da2" opacity=".7"/>
<circle cx="1313.9" cy="503.1" r="12.09" fill="#8a0da2" opacity=".7"/>
<circle cx="1326.6" cy="503.1" r="12.09" fill="#8a0da2" opacity=".7"/>
<circle cx="1358.4" cy="503.1" r="12.09" fill="#8a0da2" opacity=".7"/>
<circle cx="1429.6" cy="512.1" r="12.04" fill="#830aa4" opacity=".7"/>
<circle cx="1405.6" cy="512.1" r="12.04" fill="#830aa4" opacity=".7"/>
<circle cx="1379.3" cy="512.1" r="12.04" fill="#830aa4" opacity=".7"/>
<circle cx="1299.2" cy="512.1" r="12.04" fill="#830aa4" opacity=".7"/>
<circle cx="1439.4" cy="512.1" r="12.04" fill="#830aa4" opacity=".7"/>
<circle cx="1305.3" cy="512.1" r="12.04" fill="#830aa4" opacity=".7"/>
<circle cx="1398.3" cy="512.1" r="12.04" fill="#830aa4" opacity=".7"/>
<circle cx="1298.9" cy="512.1" r="12.04" fill="#830aa4" opacity=".7"/>
<circle cx="1421.6" cy="512.1" r="12.04" fill="#830aa4" opacity=".7"/>
<circle cx="1369.6" cy="512.1" r="12.04" fill="#830aa4" opacity=".7"/>
<circle cx="1352.7" cy="512.1" r="12.04" fill="#830aa4" opacity=".7"/>
<circle cx="1341.6" cy="512.1" r="12.04" fill="#830aa4" opacity=".7"/>
<circle cx="1386.4" cy="512.1" r="12.04" fill="#830aa4" opacity=".7"/>
<circle cx="1014.4" cy="512.1" r="12.04" fill="#830aa4" opacity=".7"/>
<circle cx="1413.0" cy="512.1" r="12.04" fill="#830aa4" opacity=".7"/>
<circle cx="1442.3" cy="512.1" r="12.04" fill="#830aa4" opacity=".7"/>
<circle cx="1361.6" cy="512.1" r="12.04" fill="#830aa4" opacity=".7"/>
<circle cx="1398.1" cy="512.1" r="12.04" fill="#830aa4" opacity=".7"/>
<circle cx="1386.1" cy="512.1" r="12.04" fill="#830aa4" opacity=".7"/>
<circle cx="1325.6" cy="512.1" r="12.04" fill="#830aa4" opacity=".7"/>
<circle cx="1333.6" cy="512.1" r="12.04" fill="#830aa4" opacity=".7"/>
<circle cx="1014.7" cy="512.1" r="12.04" fill="#830aa4" opacity=".7"/>
<circle cx="1305.8" cy="512.1" r="12.04" fill="#830aa4" opacity=".7"/>
<circle cx="1398.6" cy="512.1" r="12.04" fill="#830aa4" opacity=".7"/>
<circle cx="1439.9" cy="512.1" r="12.04" fill="#830aa4" opacity=".7"/>
<circle cx="1274.7" cy="512.1" r="12.04" fill="#830aa4" opacity=".7"/>
<circle cx="1310.5" cy="512.1" r="12.04" fill="#830aa4" opacity=".7"/>
<circle cx="1310.3" cy="512.1" r="12.04" fill="#830aa4" opacity=".7"/>
<circle cx="1274.9" cy="512.1" r="12.04" fill="#830aa4" opacity=".7"/>
<circle cx="1439.6" cy="512.1" r="12.04" fill="#830aa4" opacity=".7"/>
<circle cx="1305.5" cy="512.1" r="12.04" fill="#830aa4" opacity=".7"/>
<circle cx="1291.6" cy="512.1" r="12.04" fill="#830aa4" opacity=".7"/>
<circle cx="1283.6" cy="512.1" r="12.04" fill="#830aa4" opacity=".7"/>
<circle cx="1442.6" cy="512.1" r="12.04" fill="#830aa4" opacity=".7"/>
<circle cx="1001.3" cy="512.1" r="12.04" fill="#830aa4" opacity=".7"/>
<circle cx="1306.0" cy="512.1" r="12.04" fill="#830aa4" opacity=".7"/>
<circle cx="1002.2" cy="512.1" r="12.04" fill="#830aa4" opacity=".7"/>
<circle cx="1002.4" cy="512.1" r="12.04" fill="#830aa4" opacity=".7"/>
<circle cx="1317.6" cy="512.1" r="12.04" fill="#830aa4" opacity=".7"/>
<circle cx="1310.0" cy="512.1" r="12.04" fill="#830aa4" opacity=".7"/>
<circle cx="1379.8" cy="512.1" r="12.04" fill="#830aa4" opacity=".7"/>
<circle cx="1379.6" cy="512.1" r="12.04" fill="#830aa4" opacity=".7"/>
<circle cx="1299.4" cy="512.1" r="12.04" fill="#830aa4" opacity=".7"/>
<circle cx="1261.0" cy="512.1" r="12.04" fill="#830aa4" opacity=".7"/>
<circle cx="1352.4" cy="512.1" r="12.04" fill="#830aa4" opacity=".7"/>
<circle cx="1261.0" cy="512.1" r="12.04" fill="#830aa4" opacity=".7"/>
<circle cx="1328.6" cy="520.4" r="11.99" fill="#7d07a5" opacity=".7"/>
<circle cx="1296.2" cy="520.4" r="11.99" fill="#7d07a5" opacity=".7"/>
<circle cx="1331.1" cy="520.4" r="11.99" fill="#7d07a5" opacity=".7"/>
<circle cx="1309.6" cy="520.4" r="11.99" fill="#7d07a5" opacity=".7"/>
<circle cx="1353.6" cy="520.4" r="11.99" fill="#7d07a5" opacity=".7"/>
<circle cx="1405.1" cy="520.4" r="11.99" fill="#7d07a5" opacity=".7"/>
<circle cx="1317.6" cy="520.4" r="11.99" fill="#7d07a5" opacity=".7"/>
<circle cx="1402.8" cy="520.4" r="11.99" fill="#7d07a5" opacity=".7"/>
<circle cx="1374.4" cy="520.4" r="11.99" fill="#7d07a5" opacity=".7"/>
<circle cx="1301.4" cy="520.4" r="11.99" fill="#7d07a5" opacity=".7"/>
<circle cx="1435.6" cy="520.4" r="11.99" fill="#7d07a5" opacity=".7"/>
<circle cx="1404.6" cy="520.4" r="11.99" fill="#7d07a5" opacity=".7"/>
<circle cx="995.5" cy="520.4" r="11.99" fill="#7d07a5" opacity=".7"/>
<circle cx="1428.2" cy="520.4" r="11.99" fill="#7d07a5" opacity=".7"/>
<circle cx="1407.6" cy="520.4" r="11.99" fill="#7d07a5" opacity=".7"/>
<circle cx="1402.6" cy="520.4" r="11.99" fill="#7d07a5" opacity=".7"/>
<circle cx="1003.6" cy="520.4" r="11.99" fill="#7d07a5" opacity=".7"/>
<circle cx="1328.9" cy="520.4" r="11.99" fill="#7d07a5" opacity=".7"/>
<circle cx="1013.3" cy="520.4" r="11.99" fill="#7d07a5" opacity=".7"/>
<circle cx="1376.9" cy="520.4" r="11.99" fill="#7d07a5" opacity=".7"/>
<circle cx="1415.6" cy="520.4" r="11.99" fill="#7d07a5" opacity=".7"/>
<circle cx="1296.4" cy="520.4" r="11.99" fill="#7d07a5" opacity=".7"/>
<circle cx="1008.5" cy="520.4" r="11.99" fill="#7d07a5" opacity=".7"/>
<circle cx="1428.5" cy="520.4" r="11.99" fill="#7d07a5" opacity=".7"/>
<circle cx="1013.8" cy="520.4" r="11.99" fill="#7d07a5" opacity=".7"/>
<circle cx="1345.5" cy="520.4" r="11.99" fill="#7d07a5" opacity=".7"/>
<circle cx="1374.1" cy="520.4" r="11.99" fill="#7d07a5" opacity=".7"/>
<circle cx="995.4" cy="520.4" r="11.99" fill="#7d07a5" opacity=".7"/>
<circle cx="1361.6" cy="520.4" r="11.99" fill="#7d07a5" opacity=".7"/>
<circle cx="1393.6" cy="520.4" r="11.99" fill="#7d07a5" opacity=".7"/>
<circle cx="1403.1" cy="520.4" r="11.99" fill="#7d07a5" opacity=".7"/>
<circle cx="1295.9" cy="520.4" r="11.99" fill="#7d07a5" opacity=".7"/>
<circle cx="1443.6" cy="520.4" r="11.99" fill="#7d07a5" opacity=".7"/>
<circle cx="1328.4" cy="520.4" r="11.99" fill="#7d07a5" opacity=".7"/>
<circle cx="1287.6" cy="520.4" r="11.99" fill="#7d07a5" opacity=".7"/>
<circle cx="1300.9" cy="520.4" r="11.99" fill="#7d07a5" opacity=".7"/>
<circle cx="1279.0" cy="520.4" r="11.99" fill="#7d07a5" opacity=".7"/>
<circle cx="1279.0" cy="520.4" r="11.99" fill="#7d07a5" opacity=".7"/>
<circle cx="1404.8" cy="520.4" r="11.99" fill="#7d07a5" opacity=".7"/>
<circle cx="1376.7" cy="520.4" r="11.99" fill="#7d07a5" opacity=".7"/>
<circle cx="1385.6" cy="520.4" r="11.99" fill="#7d07a5" opacity=".7"/>
<circle cx="1345.3" cy="520.4" r="11.99" fill="#7d07a5" opacity=".7"/>
<circle cx="1301.1" cy="520.4" r="11.99" fill="#7d07a5" opacity=".7"/>
<circle cx="1439.6" cy="527.8" r="11.94" fill="#7804a7" opacity=".7"/>
<circle cx="1340.5" cy="527.8" r="11.94" fill="#7804a7" opacity=".7"/>
<circle cx="1430.5" cy="527.8" r="11.94" fill="#7804a7" opacity=".7"/>
<circle cx="1013.0" cy="527.8" r="11.94" fill="#7804a7" opacity=".7"/>
<circle cx="987.4" cy="527.8" r="11.94" fill="#7804a7" opacity=".7"/>
<circle cx="1315.6" cy="527.8" r="11.94" fill="#7804a7" opacity=".7"/>
<circle cx="1395.6" cy="527.8" r="11.94" fill="#7804a7" opacity=".7"/>
<circle cx="1415.0" cy="527.8" r="11.94" fill="#7804a7" opacity=".7"/>
<circle cx="1003.5" cy="527.8" r="11.94" fill="#7804a7" opacity=".7"/>
<circle cx="1292.0" cy="527.8" r="11.94" fill="#7804a7" opacity=".7"/>
<circle cx="1403.6" cy="527.8" r="11.94" fill="#7804a7" opacity=".7"/>
<circle cx="1363.6" cy="527.8" r="11.94" fill="#7804a7" opacity=".7"/>
<circle cx="1006.8" cy="527.8" r="11.94" fill="#7804a7" opacity=".7"/>
<circle cx="987.6" cy="527.8" r="11.94" fill="#7804a7" opacity=".7"/>
<circle cx="1307.6" cy="527.8" r="11.94" fill="#7804a7" opacity=".7"/>
<circle cx="1323.6" cy="527.8" r="11.94" fill="#7804a7" opacity=".7"/>
<circle cx="1331.6" cy="527.8" r="11.94" fill="#7804a7" opacity=".7"/>
<circle cx="1354.5" cy="527.8" r="11.94" fill="#7804a7" opacity=".7"/>
<circle cx="1292.0" cy="527.8" r="11.94" fill="#7804a7" opacity=".7"/>
<circle cx="1430.8" cy="527.8" r="11.94" fill="#7804a7" opacity=".7"/>
<circle cx="1354.8" cy="527.8" r="11.94" fill="#7804a7" opacity=".7"/>
<circle cx="1004.9" cy="527.8" r="11.94" fill="#7804a7" opacity=".7"/>
<circle cx="1387.6" cy="527.8" r="11.94" fill="#7804a7" opacity=".7"/>
<circle cx="1415.3" cy="527.8" r="11.94" fill="#7804a7" opacity=".7"/>
<circle cx="1379.6" cy="527.8" r="11.94" fill="#7804a7" opacity=".7"/>
<circle cx="1299.6" cy="527.8" r="11.94" fill="#7804a7" opacity=".7"/>
<circle cx="1013.4" cy="527.8" r="11.94" fill="#7804a7" opacity=".7"/>
<circle cx="1371.6" cy="527.8" r="11.94" fill="#7804a7" opacity=".7"/>
<circle cx="1312.2" cy="532.7" r="11.91" fill="#7402a8" opacity=".7"/>
<circle cx="1336.2" cy="532.7" r="11.91" fill="#7402a8" opacity=".7"/>
<circle cx="1320.1" cy="532.7" r="11.91" fill="#7402a8" opacity=".7"/>
<circle cx="984.1" cy="532.7" r="11.91" fill="#7402a8" opacity=".7"/>
<circle cx="1322.4" cy="532.7" r="11.91" fill="#7402a8" opacity=".7"/>
<circle cx="1325.0" cy="532.7" r="11.91" fill="#7402a8" opacity=".7"/>
<circle cx="1360.9" cy="532.7" r="11.91" fill="#7402a8" opacity=".7"/>
<circle cx="1423.7" cy="532.7" r="11.91" fill="#7402a8" opacity=".7"/>
<circle cx="999.0" cy="532.7" r="11.91" fill="#7402a8" opacity=".7"/>
<circle cx="1361.4" cy="532.7" r="11.91" fill="#7402a8" opacity=".7"/>
<circle cx="1335.7" cy="532.7" r="11.91" fill="#7402a8" opacity=".7"/>
<circle cx="1393.6" cy="532.7" r="11.91" fill="#7402a8" opacity=".7"/>
<circle cx="1423.9" cy="532.7" r="11.91" fill="#7402a8" opacity=".7"/>
<circle cx="1443.6" cy="532.7" r="11.91" fill="#7402a8" opacity=".7"/>
<circle cx="1361.1" cy="532.7" r="11.91" fill="#7402a8" opacity=".7"/>
<circle cx="1324.3" cy="532.7" r="11.91" fill="#7402a8" opacity=".7"/>
<circle cx="1401.6" cy="532.7" r="11.91" fill="#7402a8" opacity=".7"/>
<circle cx="1324.8" cy="532.7" r="11.91" fill="#7402a8" opacity=".7"/>
<circle cx="1312.5" cy="532.7" r="11.91" fill="#7402a8" opacity=".7"/>
<circle cx="1338.3" cy="532.7" r="11.91" fill="#7402a8" opacity=".7"/>
<circle cx="980.9" cy="532.7" r="11.91" fill="#7402a8" opacity=".7"/>
<circle cx="989.8" cy="532.7" r="11.91" fill="#7402a8" opacity=".7"/>
<circle cx="1310.0" cy="532.7" r="11.91" fill="#7402a8" opacity=".7"/>
<circle cx="1012.7" cy="532.7" r="11.91" fill="#7402a8" opacity=".7"/>
<circle cx="1335.9" cy="532.7" r="11.91" fill="#7402a8" opacity=".7"/>
<circle cx="1322.6" cy="532.7" r="11.91" fill="#7402a8" opacity=".7"/>
<circle cx="1008.1" cy="532.7" r="11.91" fill="#7402a8" opacity=".7"/>
<circle cx="980.0" cy="532.7" r="11.91" fill="#7402a8" opacity=".7"/>
<circle cx="1426.2" cy="532.7" r="11.91" fill="#7402a8" opacity=".7"/>
<circle cx="1377.6" cy="532.7" r="11.91" fill="#7402a8" opacity=".7"/>
<circle cx="1345.6" cy="532.7" r="11.91" fill="#7402a8" opacity=".7"/>
<circle cx="1426.4" cy="532.7" r="11.91" fill="#7402a8" opacity=".7"/>
<circle cx="1409.6" cy="532.7" r="11.91" fill="#7402a8" opacity=".7"/>
<circle cx="1369.6" cy="532.7" r="11.91" fill="#7402a8" opacity=".7"/>
<circle cx="1353.6" cy="532.7" r="11.91" fill="#7402a8" opacity=".7"/>
<circle cx="1324.5" cy="532.7" r="11.91" fill="#7402a8" opacity=".7"/>
<circle cx="1322.9" cy="532.7" r="11.91" fill="#7402a8" opacity=".7"/>
<circle cx="1013.4" cy="532.7" r="11.91" fill="#7402a8" opacity=".7"/>
<circle cx="1319.8" cy="532.7" r="11.91" fill="#7402a8" opacity=".7"/>
<circle cx="1338.0" cy="532.7" r="11.91" fill="#7402a8" opacity=".7"/>
<circle cx="1435.6" cy="532.7" r="11.91" fill="#7402a8" opacity=".7"/>
<circle cx="1360.6" cy="532.7" r="11.91" fill="#7402a8" opacity=".7"/>
<circle cx="1426.7" cy="532.7" r="11.91" fill="#7402a8" opacity=".7"/>
<circle cx="1385.6" cy="532.7" r="11.91" fill="#7402a8" opacity=".7"/>
<circle cx="1323.1" cy="532.7" r="11.91" fill="#7402a8" opacity=".7"/>
<circle cx="1441.0" cy="540.8" r="11.86" fill="#6e01a7" opacity=".7"/>
<circle cx="979.1" cy="540.8" r="11.86" fill="#6e01a7" opacity=".7"/>
<circle cx="1008.2" cy="540.8" r="11.86" fill="#6e01a7" opacity=".7"/>
<circle cx="982.4" cy="540.8" r="11.86" fill="#6e01a7" opacity=".7"/>
<circle cx="1008.9" cy="540.8" r="11.86" fill="#6e01a7" opacity=".7"/>
<circle cx="930.3" cy="540.8" r="11.86" fill="#6e01a7" opacity=".7"/>
<circle cx="973.7" cy="540.8" r="11.86" fill="#6e01a7" opacity=".7"/>
<circle cx="980.8" cy="540.8" r="11.86" fill="#6e01a7" opacity=".7"/>
<circle cx="937.1" cy="540.8" r="11.86" fill="#6e01a7" opacity=".7"/>
<circle cx="982.4" cy="540.8" r="11.86" fill="#6e01a7" opacity=".7"/>
<circle cx="937.7" cy="540.8" r="11.86" fill="#6e01a7" opacity=".7"/>
<circle cx="974.1" cy="540.8" r="11.86" fill="#6e01a7" opacity=".7"/>
<circle cx="929.7" cy="540.8" r="11.86" fill="#6e01a7" opacity=".7"/>
<circle cx="938.9" cy="549.8" r="11.80" fill="#6702a6" opacity=".7"/>
<circle cx="999.9" cy="549.8" r="11.80" fill="#6702a6" opacity=".7"/>
<circle cx="981.6" cy="549.8" r="11.80" fill="#6702a6" opacity=".7"/>
<circle cx="999.6" cy="549.8" r="11.80" fill="#6702a6" opacity=".7"/>
<circle cx="973.5" cy="549.8" r="11.80" fill="#6702a6" opacity=".7"/>
<circle cx="938.7" cy="549.8" r="11.80" fill="#6702a6" opacity=".7"/>
<circle cx="972.6" cy="549.8" r="11.80" fill="#6702a6" opacity=".7"/>
<circle cx="983.5" cy="549.8" r="11.80" fill="#6702a6" opacity=".7"/>
<circle cx="1000.1" cy="549.8" r="11.80" fill="#6702a6" opacity=".7"/>
<circle cx="931.0" cy="549.8" r="11.80" fill="#6702a6" opacity=".7"/>
<circle cx="931.0" cy="549.8" r="11.80" fill="#6702a6" opacity=".7"/>
<circle cx="1444.3" cy="549.8" r="11.80" fill="#6702a6" opacity=".7"/>
<circle cx="973.4" cy="558.7" r="11.75" fill="#6002a4" opacity=".7"/>
<circle cx="992.4" cy="558.7" r="11.75" fill="#6002a4" opacity=".7"/>
<circle cx="989.0" cy="558.7" r="11.75" fill="#6002a4" opacity=".7"/>
<circle cx="992.6" cy="558.7" r="11.75" fill="#6002a4" opacity=".7"/>
<circle cx="973.9" cy="558.7" r="11.75" fill="#6002a4" opacity=".7"/>
<circle cx="940.1" cy="558.7" r="11.75" fill="#6002a4" opacity=".7"/>
<circle cx="932.9" cy="558.7" r="11.75" fill="#6002a4" opacity=".7"/>
<circle cx="932.2" cy="558.7" r="11.75" fill="#6002a4" opacity=".7"/>
<circle cx="939.7" cy="558.7" r="11.75" fill="#6002a4" opacity=".7"/>
<circle cx="986.0" cy="558.7" r="11.75" fill="#6002a4" opacity=".7"/>
<circle cx="973.0" cy="568.6" r="11.68" fill="#5802a3" opacity=".7"/>
<circle cx="978.9" cy="568.6" r="11.68" fill="#5802a3" opacity=".7"/>
<circle cx="931.9" cy="568.6" r="11.68" fill="#5802a3" opacity=".7"/>
<circle cx="942.2" cy="568.6" r="11.68" fill="#5802a3" opacity=".7"/>
<circle cx="931.6" cy="568.6" r="11.68" fill="#5802a3" opacity=".7"/>
<circle cx="942.5" cy="568.6" r="11.68" fill="#5802a3" opacity=".7"/>
<circle cx="942.0" cy="568.6" r="11.68" fill="#5802a3" opacity=".7"/>
<circle cx="972.0" cy="568.6" r="11.68" fill="#5802a3" opacity=".7"/>
<circle cx="986.5" cy="568.6" r="11.68" fill="#5802a3" opacity=".7"/>
<circle cx="986.4" cy="568.6" r="11.68" fill="#5802a3" opacity=".7"/>
<circle cx="945.8" cy="578.6" r="11.62" fill="#5103a1" opacity=".7"/>
<circle cx="983.2" cy="578.6" r="11.62" fill="#5103a1" opacity=".7"/>
<circle cx="952.4" cy="578.6" r="11.62" fill="#5103a1" opacity=".7"/>
<circle cx="931.4" cy="578.6" r="11.62" fill="#5103a1" opacity=".7"/>
<circle cx="944.4" cy="578.6" r="11.62" fill="#5103a1" opacity=".7"/>
<circle cx="931.1" cy="578.6" r="11.62" fill="#5103a1" opacity=".7"/>
<circle cx="946.6" cy="578.6" r="11.62" fill="#5103a1" opacity=".7"/>
<circle cx="936.0" cy="578.6" r="11.62" fill="#5103a1" opacity=".7"/>
<circle cx="956.5" cy="578.6" r="11.62" fill="#5103a1" opacity=".7"/>
<circle cx="984.0" cy="578.6" r="11.62" fill="#5103a1" opacity=".7"/>
<circle cx="944.9" cy="578.6" r="11.62" fill="#5103a1" opacity=".7"/>
<circle cx="949.6" cy="578.6" r="11.62" fill="#5103a1" opacity=".7"/>
<circle cx="980.7" cy="578.6" r="11.62" fill="#5103a1" opacity=".7"/>
<circle cx="945.0" cy="578.6" r="11.62" fill="#5103a1" opacity=".7"/>
<circle cx="932.7" cy="587.5" r="11.56" fill="#4a03a0" opacity=".7"/>
<circle cx="946.0" cy="587.5" r="11.56" fill="#4a03a0" opacity=".7"/>
<circle cx="945.0" cy="587.5" r="11.56" fill="#4a03a0" opacity=".7"/>
<circle cx="982.4" cy="587.5" r="11.56" fill="#4a03a0" opacity=".7"/>
<circle cx="944.9" cy="587.5" r="11.56" fill="#4a03a0" opacity=".7"/>
<circle cx="945.0" cy="587.5" r="11.56" fill="#4a03a0" opacity=".7"/>
<circle cx="932.3" cy="587.5" r="11.56" fill="#4a03a0" opacity=".7"/>
<circle cx="959.1" cy="587.5" r="11.56" fill="#4a03a0" opacity=".7"/>
<circle cx="944.1" cy="587.5" r="11.56" fill="#4a03a0" opacity=".7"/>
<circle cx="983.0" cy="587.5" r="11.56" fill="#4a03a0" opacity=".7"/>
<circle cx="980.3" cy="587.5" r="11.56" fill="#4a03a0" opacity=".7"/>
<circle cx="962.1" cy="587.5" r="11.56" fill="#4a03a0" opacity=".7"/>
<circle cx="977.9" cy="587.5" r="11.56" fill="#4a03a0" opacity=".7"/>
<circle cx="933.5" cy="596.5" r="11.50" fill="#42039d" opacity=".7"/>
<circle cx="933.8" cy="596.5" r="11.50" fill="#42039d" opacity=".7"/>
<circle cx="967.1" cy="596.5" r="11.50" fill="#42039d" opacity=".7"/>
<circle cx="980.0" cy="596.5" r="11.50" fill="#42039d" opacity=".7"/>
<circle cx="982.0" cy="596.5" r="11.50" fill="#42039d" opacity=".7"/>
<circle cx="945.0" cy="596.5" r="11.50" fill="#42039d" opacity=".7"/>
<circle cx="944.9" cy="596.5" r="11.50" fill="#42039d" opacity=".7"/>
<circle cx="945.3" cy="596.5" r="11.50" fill="#42039d" opacity=".7"/>
<circle cx="941.9" cy="596.5" r="11.50" fill="#42039d" opacity=".7"/>
<circle cx="945.0" cy="596.5" r="11.50" fill="#42039d" opacity=".7"/>
<circle cx="981.2" cy="596.5" r="11.50" fill="#42039d" opacity=".7"/>
<circle cx="967.9" cy="596.5" r="11.50" fill="#42039d" opacity=".7"/>
<circle cx="948.9" cy="596.5" r="11.50" fill="#42039d" opacity=".7"/>
<circle cx="969.1" cy="607.9" r="11.43" fill="#370498" opacity=".7"/>
<circle cx="948.5" cy="607.9" r="11.43" fill="#370498" opacity=".7"/>
<circle cx="932.4" cy="607.9" r="11.43" fill="#370498" opacity=".7"/>
<circle cx="945.2" cy="607.9" r="11.43" fill="#370498" opacity=".7"/>
<circle cx="969.5" cy="607.9" r="11.43" fill="#370498" opacity=".7"/>
<circle cx="945.1" cy="607.9" r="11.43" fill="#370498" opacity=".7"/>
<circle cx="950.0" cy="607.9" r="11.43" fill="#370498" opacity=".7"/>
<circle cx="932.6" cy="607.9" r="11.43" fill="#370498" opacity=".7"/>
<circle cx="945.1" cy="607.9" r="11.43" fill="#370498" opacity=".7"/>
<circle cx="945.0" cy="607.9" r="11.43" fill="#370498" opacity=".7"/>
<circle cx="943.9" cy="607.9" r="11.43" fill="#370498" opacity=".7"/>
<circle cx="951.2" cy="607.9" r="11.43" fill="#370498" opacity=".7"/>
<circle cx="945.6" cy="618.8" r="11.36" fill="#2c0594" opacity=".7"/>
<circle cx="965.3" cy="618.8" r="11.36" fill="#2c0594" opacity=".7"/>
<circle cx="932.7" cy="618.8" r="11.36" fill="#2c0594" opacity=".7"/>
<circle cx="966.0" cy="618.8" r="11.36" fill="#2c0594" opacity=".7"/>
<circle cx="937.5" cy="618.8" r="11.36" fill="#2c0594" opacity=".7"/>
<circle cx="945.0" cy="618.8" r="11.36" fill="#2c0594" opacity=".7"/>
<circle cx="949.3" cy="618.8" r="11.36" fill="#2c0594" opacity=".7"/>
<circle cx="932.3" cy="618.8" r="11.36" fill="#2c0594" opacity=".7"/>
<circle cx="945.2" cy="618.8" r="11.36" fill="#2c0594" opacity=".7"/>
<circle cx="944.4" cy="618.8" r="11.36" fill="#2c0594" opacity=".7"/>
<circle cx="945.2" cy="618.8" r="11.36" fill="#2c0594" opacity=".7"/>
<circle cx="945.3" cy="629.7" r="11.29" fill="#21068f" opacity=".7"/>
<circle cx="965.0" cy="629.7" r="11.29" fill="#21068f" opacity=".7"/>
<circle cx="945.0" cy="629.7" r="11.29" fill="#21068f" opacity=".7"/>
<circle cx="934.6" cy="629.7" r="11.29" fill="#21068f" opacity=".7"/>
<circle cx="964.3" cy="629.7" r="11.29" fill="#21068f" opacity=".7"/>
<circle cx="933.7" cy="629.7" r="11.29" fill="#21068f" opacity=".7"/>
<circle cx="951.2" cy="629.7" r="11.29" fill="#21068f" opacity=".7"/>
<circle cx="945.3" cy="629.7" r="11.29" fill="#21068f" opacity=".7"/>
<circle cx="948.7" cy="629.7" r="11.29" fill="#21068f" opacity=".7"/>
<circle cx="935.6" cy="629.7" r="11.29" fill="#21068f" opacity=".7"/>
<circle cx="944.8" cy="629.7" r="11.29" fill="#21068f" opacity=".7"/>
<circle cx="939.7" cy="639.7" r="11.22" fill="#17078b" opacity=".7"/>
<circle cx="945.0" cy="639.7" r="11.22" fill="#17078b" opacity=".7"/>
<circle cx="944.8" cy="639.7" r="11.22" fill="#17078b" opacity=".7"/>
<circle cx="966.0" cy="639.7" r="11.22" fill="#17078b" opacity=".7"/>
<circle cx="945.3" cy="639.7" r="11.22" fill="#17078b" opacity=".7"/>
<circle cx="946.3" cy="639.7" r="11.22" fill="#17078b" opacity=".7"/>
<circle cx="939.7" cy="639.7" r="11.22" fill="#17078b" opacity=".7"/>
<circle cx="956.5" cy="639.7" r="11.22" fill="#17078b" opacity=".7"/>
<circle cx="945.2" cy="639.7" r="11.22" fill="#17078b" opacity=".7"/>
<circle cx="965.2" cy="639.7" r="11.22" fill="#17078b" opacity=".7"/>
<circle cx="961.7" cy="649.5" r="11.16" fill="#0d0887" opacity=".7"/>
<circle cx="955.1" cy="649.5" r="11.16" fill="#0d0887" opacity=".7"/>
<circle cx="955.0" cy="649.5" r="11.16" fill="#0d0887" opacity=".7"/>
<circle cx="961.3" cy="649.5" r="11.16" fill="#0d0887" opacity=".7"/>
</g>
<text x="69.2" y="35.5" font-size="26.7" stroke-width=".15" textLength="172.6" lengthAdjust="spacingAndGlyphs">Data Analysis</text>
<text x="36.2" y="137.1" font-size="18.8" textLength="63" lengthAdjust="spacingAndGlyphs">0.0019</text>
<text x="36.2" y="208.5" font-size="18.8" textLength="63" lengthAdjust="spacingAndGlyphs">0.0018</text>
<text x="36.2" y="279.8" font-size="18.8" textLength="63" lengthAdjust="spacingAndGlyphs">0.0017</text>
<text x="36.2" y="351.2" font-size="18.8" textLength="63" lengthAdjust="spacingAndGlyphs">0.0016</text>
<text x="36.2" y="422.5" font-size="18.8" textLength="63" lengthAdjust="spacingAndGlyphs">0.0015</text>
<text x="36.2" y="493.9" font-size="18.8" textLength="63" lengthAdjust="spacingAndGlyphs">0.0014</text>
<text x="36.2" y="565.3" font-size="18.8" textLength="63" lengthAdjust="spacingAndGlyphs">0.0013</text>
<text x="36.2" y="636.6" font-size="18.8" textLength="63" lengthAdjust="spacingAndGlyphs">0.0012</text>
<text x="96.5" y="720.2" font-size="18.8" textLength="53" lengthAdjust="spacingAndGlyphs">06:00</text>
<text x="350.7" y="720.2" font-size="18.8" textLength="53" lengthAdjust="spacingAndGlyphs">12:00</text>
<text x="604.9" y="720.2" font-size="18.8" textLength="53" lengthAdjust="spacingAndGlyphs">18:00</text>
<text x="859.1" y="720.2" font-size="18.8" textLength="53" lengthAdjust="spacingAndGlyphs">00:00</text>
<text x="1113.3" y="720.2" font-size="18.8" textLength="53" lengthAdjust="spacingAndGlyphs">06:00</text>
<text x="1367.5" y="720.2" font-size="18.8" textLength="53" lengthAdjust="spacingAndGlyphs">12:00</text>
<text x="66.3" y="743.2" font-size="18.8" textLength="112.7" lengthAdjust="spacingAndGlyphs">Jul 16, 2020</text>
<text x="828.9" y="743.2" font-size="18.8" textLength="112.7" lengthAdjust="spacingAndGlyphs">Jul 17, 2020</text>
<text x="743" y="783.8" font-size="22.7" stroke-width=".15" textLength="154.7" lengthAdjust="spacingAndGlyphs">CO2 Emissions</text>
<defs><linearGradient id="cb" x1="0" y1="0" x2="0" y2="1"><stop offset="0.0000" stop-color="#f0f921"/><stop offset="0.1111" stop-color="#fdca26"/><stop offset="0.2222" stop-color="#fb9f3a"/><stop offset="0.3333" stop-color="#ed7953"/><stop offset="0.4444" stop-color="#d8576b"/><stop offset="0.5556" stop-color="#bd3786"/><stop offset="0.6667" stop-color="#9c179e"/><stop offset="0.7778" stop-color="#7201a8"/><stop offset="0.8889" stop-color="#46039f"/><stop offset="1.0000" stop-color="#0d0887"/></linearGradient></defs>
<rect x="1583" y="129.2" width="45" height="556.2" fill="url(#cb)"/>
<text x="1583.8" y="115.7" font-size="16" stroke-width=".7" textLength="23" lengthAdjust="spacingAndGlyphs">CO</text>
<text x="1633.1" y="206.0" font-size="18.8" textLength="63" lengthAdjust="spacingAndGlyphs">0.0018</text>
<text x="1633.1" y="283.2" font-size="18.8" textLength="63" lengthAdjust="spacingAndGlyphs">0.0017</text>
<text x="1633.1" y="360.4" font-size="18.8" textLength="63" lengthAdjust="spacingAndGlyphs">0.0016</text>
<text x="1633.1" y="437.6" font-size="18.8" textLength="63" lengthAdjust="spacingAndGlyphs">0.0015</text>
<text x="1633.1" y="514.8" font-size="18.8" textLength="63" lengthAdjust="spacingAndGlyphs">0.0014</text>
<text x="1633.1" y="592.0" font-size="18.8" textLength="63" lengthAdjust="spacingAndGlyphs">0.0013</text>
<text x="1633.1" y="669.2" font-size="18.8" textLength="63" lengthAdjust="spacingAndGlyphs">0.0012</text>
<g fill="#f2f5fa">
<rect x="0" y="379.4" width="2.7" height="2.0"/>
<rect x="0" y="386.3" width="2.7" height="2.3"/>
<rect x="0" y="393.6" width="2.7" height="2.3"/>
<rect x="0" y="399.4" width="2.7" height="2.5"/>
<rect x="0" y="409.0" width="2.7" height="2.3"/>
<ellipse cx="-2.2" cy="370.4" rx="5" ry="5.2"/>
</g>
<g fill="#1f1f1f" stroke="none">
<rect x="1349" y="3" width="24.2" height="15.2" rx="2"/><rect x="1355.5" y="0" width="11" height="4"/>
<circle cx="1360.8" cy="10.3" r="5.8" fill="#111111"/><circle cx="1360.8" cy="10.3" r="3.4"/>
</g>
<g fill="#2a2a2a">
<circle cx="1406.5" cy="6.7" r="9.7"/>
<path d="M1411.5 13.8L1414 11.3L1420.6 17.9L1418.1 20.4Z"/>
<rect x="1401.6" y="1.8" width="10" height="10" fill="#111111"/><rect x="1403.2" y="3.4" width="6.8" height="6.8"/>
</g>
<g fill="#1f1f1f">
<rect x="1437" y="7.6" width="16" height="2.8"/><rect x="1443.6" y="0" width="2.8" height="17"/>
<path d="M1433 9L1438 5V13ZM1457 9L1452 5V13ZM1445 20.3L1441 15.3H1449Z"/>
<rect x="1469.2" y="17.6" width="3.4" height="3.4"/>
<rect x="1469.2" y="-1.5" width="3.4" height="2.2"/>
<rect x="1476.1" y="17.6" width="3.4" height="3.4"/>
<rect x="1476.1" y="-1.5" width="3.4" height="2.2"/>
<rect x="1483.1" y="17.6" width="3.4" height="3.4"/>
<rect x="1483.1" y="-1.5" width="3.4" height="2.2"/>
<rect x="1490.0" y="17.6" width="3.4" height="3.4"/>
<rect x="1490.0" y="-1.5" width="3.4" height="2.2"/>
<rect x="1469.2" y="3.8" width="3.4" height="3.4"/><rect x="1490" y="3.8" width="3.4" height="3.4"/>
<rect x="1469.2" y="10.7" width="3.4" height="3.4"/><rect x="1490" y="10.7" width="3.4" height="3.4"/>
</g>
<g fill="none" stroke="#1f1f1f" stroke-width="2.4">
<ellipse cx="1516.8" cy="6.8" rx="10.5" ry="7.6"/><circle cx="1511.6" cy="12.6" r="3"/><path d="M1512.6 15.4L1510.6 19.6"/>
</g>
<g fill="#1f1f1f">
<rect x="1554.7" y="0" width="21" height="19.2"/><rect x="1590.7" y="0" width="21" height="19.2"/>
<g fill="#111111"><rect x="1559" y="7.5" width="12" height="2.9"/><rect x="1563.5" y="2.9" width="3.3" height="12.1"/><rect x="1595.3" y="7.5" width="11.6" height="2.9"/></g>
<path d="M1625 14.5V20.8H1631V19H1626.8V14.5ZM1649 14.5V20.8H1643V19H1647.2V14.5ZM1625 0H1626.8V3H1625ZM1647.2 0H1649V3H1647.2Z"/>
<path d="M1629.5 2.5L1634 2.5L1632.7 3.8L1637 8.1L1641.3 3.8L1640 2.5L1644.5 2.5V7L1643.2 5.7L1638.9 10L1643.2 14.3L1644.5 13V17.5H1640L1641.3 16.2L1637 11.9L1632.7 16.2L1634 17.5H1629.5V13L1630.8 14.3L1635.1 10L1630.8 5.7L1629.5 7Z"/>
<path d="M1673 0.5L1662.8 9.3L1664.3 10.8L1673 3.4L1681.7 10.8L1683.2 9.3L1679.5 6.1V0.8H1677V4ZM1665.5 10.8L1673 4.6L1680.5 10.8V17.3H1675V12.3H1671V17.3H1665.5Z"/>
</g>
<path d="M1708.8 0H1725V20.8H1712.8A4 4 0 0 1 1708.8 16.8Z" fill="#0e0e0e"/>
<g fill="#3a3a3a"><rect x="1713.2" y="9.9" width="2.5" height="7" rx="1"/><rect x="1717.5" y="5.6" width="2.5" height="11.3" rx="1"/><rect x="1722" y="9.9" width="2.4" height="7" rx="1"/></g>
<g fill="#4a1030"><circle cx="1714.4" cy="2.3" r="1.2"/><circle cx="1718.8" cy="2.3" r="1.2"/><circle cx="1714.4" cy="6.9" r="1.2"/></g>
<g fill="#2c2836"><circle cx="1723" cy="2.3" r="1.2"/><circle cx="1723" cy="6.9" r="1.2"/></g>
<rect x="1725.2" y="0" width="8" height="801" fill="#ffffff"/>
<path d="M1725.2 0H1733V19L1731.2 20.6H1725.2Z" fill="#d4d4d4"/>
<rect x="1725.2" y="20.6" width="7.8" height="2.4" fill="#efefef"/>
<rect x="1726.5" y="5.6" width="2.6" height="11.3" rx="1" fill="#ffffff"/>
<circle cx="1727.5" cy="2.2" r="1.1" fill="#d8f4f6"/>
</svg></body></html>
